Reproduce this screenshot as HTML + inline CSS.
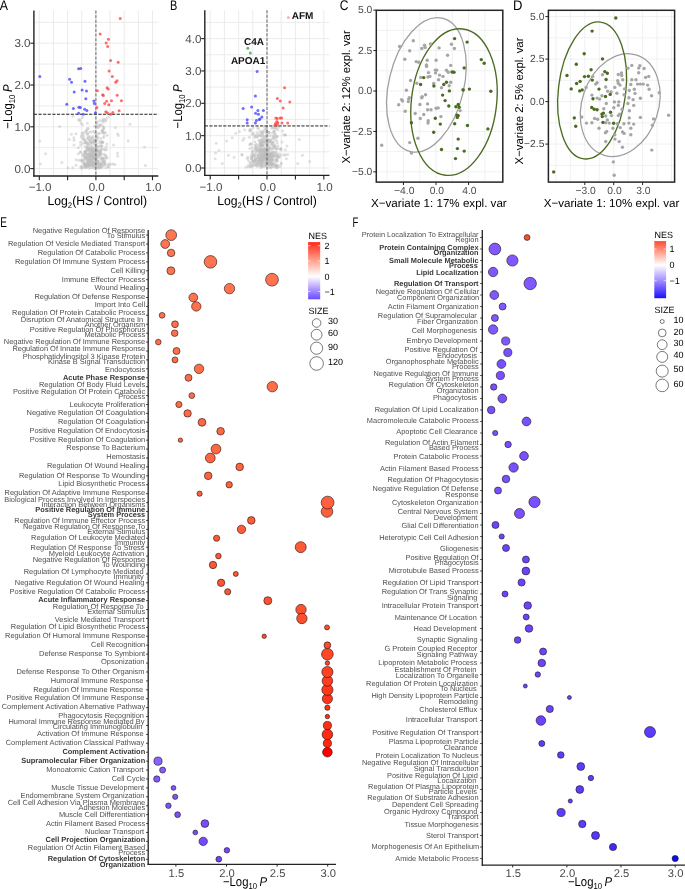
<!DOCTYPE html>
<html lang="en"><head><meta charset="utf-8"><title>Figure</title>
<style>html,body{margin:0;padding:0;background:#fff;overflow:hidden}svg{display:block;will-change:transform}text{font-family:'Liberation Sans', Arial, sans-serif}</style>
</head><body>
<svg width="685" height="889" viewBox="0 0 685 889" text-rendering="geometricPrecision">
<rect width="685" height="889" fill="#fff"/>
<line x1="39.3" y1="10.5" x2="39.3" y2="176" stroke="#e6e6e6" stroke-width="0.8"/>
<line x1="53.45" y1="10.5" x2="53.45" y2="176" stroke="#e6e6e6" stroke-width="0.8"/>
<line x1="67.6" y1="10.5" x2="67.6" y2="176" stroke="#e6e6e6" stroke-width="0.8"/>
<line x1="81.75" y1="10.5" x2="81.75" y2="176" stroke="#e6e6e6" stroke-width="0.8"/>
<line x1="95.9" y1="10.5" x2="95.9" y2="176" stroke="#e6e6e6" stroke-width="0.8"/>
<line x1="110.05" y1="10.5" x2="110.05" y2="176" stroke="#e6e6e6" stroke-width="0.8"/>
<line x1="124.2" y1="10.5" x2="124.2" y2="176" stroke="#e6e6e6" stroke-width="0.8"/>
<line x1="138.35" y1="10.5" x2="138.35" y2="176" stroke="#e6e6e6" stroke-width="0.8"/>
<line x1="152.5" y1="10.5" x2="152.5" y2="176" stroke="#e6e6e6" stroke-width="0.8"/>
<line x1="33.9" y1="168.6" x2="158.3" y2="168.6" stroke="#e6e6e6" stroke-width="0.8"/>
<line x1="33.9" y1="147.7" x2="158.3" y2="147.7" stroke="#e6e6e6" stroke-width="0.8"/>
<line x1="33.9" y1="126.8" x2="158.3" y2="126.8" stroke="#e6e6e6" stroke-width="0.8"/>
<line x1="33.9" y1="105.9" x2="158.3" y2="105.9" stroke="#e6e6e6" stroke-width="0.8"/>
<line x1="33.9" y1="85" x2="158.3" y2="85" stroke="#e6e6e6" stroke-width="0.8"/>
<line x1="33.9" y1="64.1" x2="158.3" y2="64.1" stroke="#e6e6e6" stroke-width="0.8"/>
<line x1="33.9" y1="43.2" x2="158.3" y2="43.2" stroke="#e6e6e6" stroke-width="0.8"/>
<line x1="33.9" y1="22.3" x2="158.3" y2="22.3" stroke="#e6e6e6" stroke-width="0.8"/>
<g fill="#bebebe" fill-opacity="0.46">
<circle cx="82.36" cy="117.42" r="1.5"/><circle cx="92.05" cy="157.55" r="1.5"/><circle cx="91.91" cy="154.85" r="1.5"/><circle cx="95.34" cy="139.93" r="1.5"/><circle cx="80.86" cy="160.17" r="1.5"/><circle cx="90.53" cy="164.69" r="1.5"/><circle cx="86.86" cy="163.76" r="1.5"/><circle cx="89.95" cy="162.02" r="1.5"/><circle cx="88.56" cy="165" r="1.5"/><circle cx="84.64" cy="163.12" r="1.5"/><circle cx="97.39" cy="166.6" r="1.5"/><circle cx="89.8" cy="160.62" r="1.5"/><circle cx="84.29" cy="157.44" r="1.5"/><circle cx="94.6" cy="126.18" r="1.5"/><circle cx="101.59" cy="142.29" r="1.5"/><circle cx="109" cy="163.92" r="1.5"/><circle cx="90.75" cy="160.94" r="1.5"/><circle cx="85.42" cy="158.57" r="1.5"/><circle cx="100.17" cy="151.22" r="1.5"/><circle cx="91.8" cy="149.22" r="1.5"/><circle cx="91.55" cy="142.48" r="1.5"/><circle cx="88.5" cy="132.42" r="1.5"/><circle cx="99.04" cy="167.78" r="1.5"/><circle cx="82.94" cy="143.42" r="1.5"/><circle cx="89.28" cy="153.09" r="1.5"/><circle cx="102.89" cy="125.97" r="1.5"/><circle cx="102.25" cy="141.46" r="1.5"/><circle cx="102.11" cy="130.85" r="1.5"/><circle cx="95.65" cy="152.67" r="1.5"/><circle cx="101.67" cy="145.88" r="1.5"/><circle cx="100.2" cy="164.16" r="1.5"/><circle cx="95.06" cy="162.81" r="1.5"/><circle cx="85.2" cy="142.67" r="1.5"/><circle cx="83.32" cy="162.34" r="1.5"/><circle cx="78.91" cy="160.13" r="1.5"/><circle cx="89.83" cy="156.14" r="1.5"/><circle cx="83.14" cy="155.85" r="1.5"/><circle cx="102.31" cy="163.33" r="1.5"/><circle cx="84.86" cy="151.72" r="1.5"/><circle cx="85.6" cy="132.35" r="1.5"/><circle cx="101.79" cy="167.47" r="1.5"/><circle cx="90.45" cy="154.17" r="1.5"/><circle cx="89.62" cy="155.46" r="1.5"/><circle cx="102.89" cy="166.09" r="1.5"/><circle cx="94.89" cy="140.31" r="1.5"/><circle cx="84.41" cy="155.89" r="1.5"/><circle cx="91.03" cy="164.96" r="1.5"/><circle cx="105.9" cy="119.16" r="1.5"/><circle cx="85.6" cy="167.69" r="1.5"/><circle cx="94.18" cy="144.4" r="1.5"/><circle cx="91.9" cy="155.87" r="1.5"/><circle cx="103.63" cy="133.12" r="1.5"/><circle cx="105.21" cy="163.69" r="1.5"/><circle cx="93.15" cy="155.93" r="1.5"/><circle cx="98.09" cy="150.72" r="1.5"/><circle cx="94.72" cy="141.19" r="1.5"/><circle cx="85.94" cy="156.83" r="1.5"/><circle cx="94.17" cy="162.3" r="1.5"/><circle cx="91.1" cy="156.94" r="1.5"/><circle cx="87.57" cy="166.73" r="1.5"/><circle cx="90.33" cy="151.17" r="1.5"/><circle cx="102.05" cy="154.06" r="1.5"/><circle cx="97.21" cy="161.13" r="1.5"/><circle cx="85.37" cy="151.96" r="1.5"/><circle cx="85.16" cy="151.29" r="1.5"/><circle cx="79.86" cy="120.71" r="1.5"/><circle cx="92.02" cy="150.66" r="1.5"/><circle cx="90.99" cy="161.11" r="1.5"/><circle cx="102.16" cy="130.25" r="1.5"/><circle cx="103.23" cy="122.09" r="1.5"/><circle cx="93.3" cy="155.55" r="1.5"/><circle cx="97.35" cy="147.55" r="1.5"/><circle cx="97.78" cy="156.43" r="1.5"/><circle cx="103.81" cy="127.71" r="1.5"/><circle cx="90.18" cy="162.52" r="1.5"/><circle cx="91.83" cy="154.49" r="1.5"/><circle cx="92.89" cy="131.49" r="1.5"/><circle cx="85.17" cy="164.8" r="1.5"/><circle cx="94.89" cy="166.65" r="1.5"/><circle cx="84.72" cy="164.55" r="1.5"/><circle cx="87.26" cy="163.8" r="1.5"/><circle cx="79.84" cy="119.58" r="1.5"/><circle cx="106.06" cy="156.23" r="1.5"/><circle cx="92.08" cy="167.22" r="1.5"/><circle cx="82.42" cy="161.25" r="1.5"/><circle cx="97.92" cy="162.05" r="1.5"/><circle cx="88.12" cy="166.12" r="1.5"/><circle cx="95.64" cy="167.69" r="1.5"/><circle cx="93.96" cy="162.91" r="1.5"/><circle cx="98.8" cy="168.02" r="1.5"/><circle cx="87.26" cy="123.19" r="1.5"/><circle cx="94.24" cy="166.21" r="1.5"/><circle cx="95.7" cy="155.11" r="1.5"/><circle cx="87.08" cy="138.74" r="1.5"/><circle cx="92.86" cy="151.11" r="1.5"/><circle cx="90.79" cy="150.19" r="1.5"/><circle cx="93.77" cy="157.14" r="1.5"/><circle cx="103.29" cy="160.4" r="1.5"/><circle cx="100.45" cy="157.99" r="1.5"/><circle cx="93.79" cy="165.72" r="1.5"/><circle cx="95.46" cy="133.17" r="1.5"/><circle cx="88.14" cy="150.82" r="1.5"/><circle cx="88.67" cy="164.47" r="1.5"/><circle cx="76.17" cy="159.69" r="1.5"/><circle cx="104.45" cy="159.1" r="1.5"/><circle cx="88.15" cy="144.05" r="1.5"/><circle cx="100.53" cy="163.39" r="1.5"/><circle cx="104.48" cy="162.83" r="1.5"/><circle cx="93.64" cy="150.81" r="1.5"/><circle cx="96.24" cy="161.09" r="1.5"/><circle cx="98.2" cy="133.18" r="1.5"/><circle cx="78.42" cy="153.74" r="1.5"/><circle cx="89.3" cy="157.28" r="1.5"/><circle cx="91.26" cy="138.3" r="1.5"/><circle cx="99.64" cy="133.51" r="1.5"/><circle cx="85.92" cy="152" r="1.5"/><circle cx="102.76" cy="158.3" r="1.5"/><circle cx="106.39" cy="158.18" r="1.5"/><circle cx="95.39" cy="144.07" r="1.5"/><circle cx="98.12" cy="146.65" r="1.5"/><circle cx="96.92" cy="157.6" r="1.5"/><circle cx="93.34" cy="150.8" r="1.5"/><circle cx="87.69" cy="160.97" r="1.5"/><circle cx="86.33" cy="166.01" r="1.5"/><circle cx="104.42" cy="154.2" r="1.5"/><circle cx="94.2" cy="139.63" r="1.5"/><circle cx="95.7" cy="162.13" r="1.5"/><circle cx="80.59" cy="145.31" r="1.5"/><circle cx="98.31" cy="155.14" r="1.5"/><circle cx="102.66" cy="142.56" r="1.5"/><circle cx="105.4" cy="132.39" r="1.5"/><circle cx="84.36" cy="164.08" r="1.5"/><circle cx="87.61" cy="128.85" r="1.5"/><circle cx="105.81" cy="167.54" r="1.5"/><circle cx="94.57" cy="162.37" r="1.5"/><circle cx="96.82" cy="139.8" r="1.5"/><circle cx="88.22" cy="161.38" r="1.5"/><circle cx="100.72" cy="138.54" r="1.5"/><circle cx="95.02" cy="163.78" r="1.5"/><circle cx="84.22" cy="154.19" r="1.5"/><circle cx="92.23" cy="164.89" r="1.5"/><circle cx="95.06" cy="154.84" r="1.5"/><circle cx="96.23" cy="151.6" r="1.5"/><circle cx="108.22" cy="166.67" r="1.5"/><circle cx="85.05" cy="163.68" r="1.5"/><circle cx="100.33" cy="155.29" r="1.5"/><circle cx="86.23" cy="166.18" r="1.5"/><circle cx="92.67" cy="159.57" r="1.5"/><circle cx="89.07" cy="164.83" r="1.5"/><circle cx="86.87" cy="143.27" r="1.5"/><circle cx="92.95" cy="154.22" r="1.5"/><circle cx="92.22" cy="153.47" r="1.5"/><circle cx="94.55" cy="131.92" r="1.5"/><circle cx="106.99" cy="143.93" r="1.5"/><circle cx="102.92" cy="142.56" r="1.5"/><circle cx="104.27" cy="148.89" r="1.5"/><circle cx="96" cy="151.25" r="1.5"/><circle cx="97.84" cy="162.95" r="1.5"/><circle cx="86.86" cy="154.08" r="1.5"/><circle cx="100.77" cy="163.69" r="1.5"/><circle cx="107.15" cy="135.34" r="1.5"/><circle cx="106.55" cy="149.77" r="1.5"/><circle cx="93.64" cy="164.03" r="1.5"/><circle cx="90.37" cy="141.7" r="1.5"/><circle cx="90.86" cy="139.33" r="1.5"/><circle cx="90.56" cy="131.89" r="1.5"/><circle cx="80.97" cy="123.16" r="1.5"/><circle cx="87.33" cy="154.13" r="1.5"/><circle cx="93.06" cy="152.32" r="1.5"/><circle cx="92.13" cy="149.26" r="1.5"/><circle cx="78.4" cy="119.87" r="1.5"/><circle cx="97.54" cy="160.74" r="1.5"/><circle cx="102.48" cy="120.99" r="1.5"/><circle cx="98.75" cy="160.89" r="1.5"/><circle cx="99.29" cy="166.44" r="1.5"/><circle cx="85.62" cy="159" r="1.5"/><circle cx="92.65" cy="137.8" r="1.5"/><circle cx="101.67" cy="141.73" r="1.5"/><circle cx="78.37" cy="147.84" r="1.5"/><circle cx="93.35" cy="148.08" r="1.5"/><circle cx="92.56" cy="162.8" r="1.5"/><circle cx="81.96" cy="132.91" r="1.5"/><circle cx="93.97" cy="168.09" r="1.5"/><circle cx="89.73" cy="154.88" r="1.5"/><circle cx="99.53" cy="165.21" r="1.5"/><circle cx="89.08" cy="165.18" r="1.5"/><circle cx="87.65" cy="160.5" r="1.5"/><circle cx="96.57" cy="154.44" r="1.5"/><circle cx="95.22" cy="151.58" r="1.5"/><circle cx="96.07" cy="152.49" r="1.5"/><circle cx="97.42" cy="164.78" r="1.5"/><circle cx="99.09" cy="151.29" r="1.5"/><circle cx="89.85" cy="153.19" r="1.5"/><circle cx="107.97" cy="117.34" r="1.5"/><circle cx="100.91" cy="151.72" r="1.5"/><circle cx="91.1" cy="159.09" r="1.5"/><circle cx="84.42" cy="140.01" r="1.5"/><circle cx="83.58" cy="132.77" r="1.5"/><circle cx="92.76" cy="152.27" r="1.5"/><circle cx="98.1" cy="151.04" r="1.5"/><circle cx="100.58" cy="164.2" r="1.5"/><circle cx="100.11" cy="120.61" r="1.5"/><circle cx="87.65" cy="163.6" r="1.5"/><circle cx="92.58" cy="140.72" r="1.5"/><circle cx="80.55" cy="142.35" r="1.5"/><circle cx="84.66" cy="152.55" r="1.5"/><circle cx="90.74" cy="144.43" r="1.5"/><circle cx="96.85" cy="149.78" r="1.5"/><circle cx="92.18" cy="155.65" r="1.5"/><circle cx="100.22" cy="154.82" r="1.5"/><circle cx="87.38" cy="147.85" r="1.5"/><circle cx="87.2" cy="158.19" r="1.5"/><circle cx="88.87" cy="159.55" r="1.5"/><circle cx="93.5" cy="158.45" r="1.5"/><circle cx="84.05" cy="165.04" r="1.5"/><circle cx="101.07" cy="158.5" r="1.5"/><circle cx="80.64" cy="167.17" r="1.5"/><circle cx="86.09" cy="167.24" r="1.5"/><circle cx="86.94" cy="156.94" r="1.5"/><circle cx="105.34" cy="155.28" r="1.5"/><circle cx="88.15" cy="137.57" r="1.5"/><circle cx="87.6" cy="147.02" r="1.5"/><circle cx="92.9" cy="161.77" r="1.5"/><circle cx="93.11" cy="150.99" r="1.5"/><circle cx="96.24" cy="150.61" r="1.5"/><circle cx="88.41" cy="149.62" r="1.5"/><circle cx="82.75" cy="167.62" r="1.5"/><circle cx="91.12" cy="162.89" r="1.5"/><circle cx="93.9" cy="157.67" r="1.5"/><circle cx="83.38" cy="138.63" r="1.5"/><circle cx="89.24" cy="168.15" r="1.5"/><circle cx="104.06" cy="135.93" r="1.5"/><circle cx="80.32" cy="151.81" r="1.5"/><circle cx="92.16" cy="142.15" r="1.5"/><circle cx="95.73" cy="166.98" r="1.5"/><circle cx="103.38" cy="129.43" r="1.5"/><circle cx="90.07" cy="136.4" r="1.5"/><circle cx="91.09" cy="152.03" r="1.5"/><circle cx="95.01" cy="147.18" r="1.5"/><circle cx="88.87" cy="144.63" r="1.5"/><circle cx="94.95" cy="159.49" r="1.5"/><circle cx="104.16" cy="132.94" r="1.5"/><circle cx="99.46" cy="152.3" r="1.5"/><circle cx="96.13" cy="148.34" r="1.5"/><circle cx="83.86" cy="136.5" r="1.5"/><circle cx="94.92" cy="141.82" r="1.5"/><circle cx="80.63" cy="152.4" r="1.5"/><circle cx="89.89" cy="148.03" r="1.5"/><circle cx="96.72" cy="143.51" r="1.5"/><circle cx="90.93" cy="150.46" r="1.5"/><circle cx="97.43" cy="127" r="1.5"/><circle cx="103.04" cy="119.23" r="1.5"/><circle cx="105.62" cy="120.93" r="1.5"/><circle cx="92.19" cy="153.56" r="1.5"/><circle cx="97.42" cy="150.32" r="1.5"/><circle cx="88.16" cy="128.46" r="1.5"/><circle cx="81.36" cy="166.29" r="1.5"/><circle cx="87.83" cy="165.22" r="1.5"/><circle cx="82.79" cy="154.83" r="1.5"/><circle cx="93.72" cy="155.75" r="1.5"/><circle cx="101.51" cy="160.89" r="1.5"/><circle cx="99.72" cy="156.19" r="1.5"/><circle cx="86.35" cy="149.34" r="1.5"/><circle cx="87.97" cy="166.12" r="1.5"/><circle cx="97.56" cy="163.11" r="1.5"/><circle cx="90.91" cy="158.11" r="1.5"/><circle cx="73.81" cy="137.68" r="1.5"/><circle cx="106.99" cy="157.46" r="1.5"/><circle cx="92.62" cy="151.45" r="1.5"/><circle cx="90.43" cy="159.12" r="1.5"/><circle cx="88.96" cy="155.23" r="1.5"/><circle cx="88.62" cy="148.92" r="1.5"/><circle cx="96.92" cy="135.48" r="1.5"/><circle cx="98.33" cy="153.77" r="1.5"/><circle cx="94.65" cy="154.14" r="1.5"/><circle cx="91.8" cy="146.85" r="1.5"/><circle cx="89.5" cy="165.38" r="1.5"/><circle cx="87.44" cy="158.94" r="1.5"/><circle cx="72.95" cy="116.2" r="1.5"/><circle cx="84.94" cy="153.36" r="1.5"/><circle cx="86.15" cy="150.9" r="1.5"/><circle cx="93.95" cy="158.24" r="1.5"/><circle cx="89.68" cy="160.28" r="1.5"/><circle cx="93.9" cy="141.8" r="1.5"/><circle cx="83.36" cy="139.28" r="1.5"/><circle cx="95.16" cy="163.04" r="1.5"/><circle cx="92.45" cy="165.33" r="1.5"/><circle cx="99.88" cy="146.1" r="1.5"/><circle cx="82.97" cy="134.87" r="1.5"/><circle cx="89.25" cy="163.85" r="1.5"/><circle cx="95.71" cy="155.42" r="1.5"/><circle cx="90.74" cy="148.18" r="1.5"/><circle cx="83.79" cy="166.96" r="1.5"/><circle cx="93.68" cy="159.56" r="1.5"/><circle cx="89.83" cy="160.32" r="1.5"/><circle cx="85.64" cy="157.25" r="1.5"/><circle cx="86.29" cy="157.15" r="1.5"/><circle cx="99.88" cy="152.54" r="1.5"/><circle cx="85.56" cy="142.43" r="1.5"/><circle cx="95.5" cy="162.08" r="1.5"/><circle cx="86.84" cy="154.88" r="1.5"/><circle cx="88.93" cy="158.91" r="1.5"/><circle cx="100.14" cy="143.36" r="1.5"/><circle cx="87.76" cy="158.16" r="1.5"/><circle cx="87.71" cy="161.48" r="1.5"/><circle cx="89.18" cy="154.3" r="1.5"/><circle cx="95.54" cy="157.97" r="1.5"/><circle cx="94.6" cy="158.16" r="1.5"/><circle cx="93.12" cy="136.54" r="1.5"/><circle cx="84.54" cy="164.84" r="1.5"/><circle cx="100.22" cy="153.31" r="1.5"/><circle cx="87.51" cy="134.24" r="1.5"/><circle cx="93.54" cy="163.49" r="1.5"/><circle cx="94.48" cy="158.64" r="1.5"/><circle cx="91.8" cy="156.38" r="1.5"/><circle cx="100.96" cy="166.7" r="1.5"/><circle cx="90.12" cy="160.72" r="1.5"/><circle cx="88.43" cy="163.14" r="1.5"/><circle cx="84.48" cy="160.36" r="1.5"/><circle cx="88.51" cy="161.48" r="1.5"/><circle cx="97.32" cy="157.5" r="1.5"/><circle cx="100.57" cy="124.49" r="1.5"/><circle cx="87.21" cy="134" r="1.5"/><circle cx="95.7" cy="155.34" r="1.5"/><circle cx="86.98" cy="165.24" r="1.5"/><circle cx="97.06" cy="146.04" r="1.5"/><circle cx="110.68" cy="164.27" r="1.5"/><circle cx="88.56" cy="150.28" r="1.5"/><circle cx="98.52" cy="127.6" r="1.5"/><circle cx="93.97" cy="165.19" r="1.5"/><circle cx="87.2" cy="142.43" r="1.5"/><circle cx="103.56" cy="160.91" r="1.5"/><circle cx="102.72" cy="158.73" r="1.5"/><circle cx="87.22" cy="145.35" r="1.5"/><circle cx="98.23" cy="126.04" r="1.5"/><circle cx="90.19" cy="159.13" r="1.5"/><circle cx="105.1" cy="161.37" r="1.5"/><circle cx="91.12" cy="154.57" r="1.5"/><circle cx="103.82" cy="127.97" r="1.5"/><circle cx="98.21" cy="137.79" r="1.5"/><circle cx="81.38" cy="137.3" r="1.5"/><circle cx="93.87" cy="156.98" r="1.5"/><circle cx="81.72" cy="168.24" r="1.5"/><circle cx="91" cy="149.24" r="1.5"/><circle cx="92.46" cy="163.97" r="1.5"/><circle cx="92.09" cy="163.32" r="1.5"/><circle cx="104.35" cy="119.78" r="1.5"/><circle cx="81.61" cy="160.62" r="1.5"/><circle cx="86.17" cy="141.92" r="1.5"/><circle cx="91.18" cy="146.83" r="1.5"/><circle cx="97.08" cy="137.48" r="1.5"/><circle cx="97.71" cy="121.86" r="1.5"/><circle cx="105.12" cy="164.7" r="1.5"/><circle cx="87.04" cy="148.04" r="1.5"/><circle cx="94.55" cy="149.04" r="1.5"/><circle cx="93.99" cy="164.11" r="1.5"/><circle cx="101.86" cy="149.17" r="1.5"/><circle cx="88.79" cy="139.76" r="1.5"/><circle cx="92.45" cy="164.53" r="1.5"/><circle cx="86.26" cy="154.46" r="1.5"/><circle cx="104.01" cy="162.69" r="1.5"/><circle cx="94.64" cy="151.28" r="1.5"/><circle cx="96.5" cy="149.54" r="1.5"/><circle cx="88.46" cy="136.67" r="1.5"/><circle cx="106.1" cy="146.84" r="1.5"/><circle cx="84.96" cy="140.73" r="1.5"/><circle cx="102.48" cy="132.06" r="1.5"/><circle cx="90.92" cy="167.33" r="1.5"/><circle cx="99.84" cy="153.44" r="1.5"/><circle cx="87.08" cy="164.1" r="1.5"/><circle cx="103.61" cy="157.65" r="1.5"/><circle cx="93.8" cy="163.08" r="1.5"/><circle cx="98.42" cy="167.84" r="1.5"/><circle cx="91.49" cy="158.08" r="1.5"/><circle cx="99.4" cy="141.55" r="1.5"/><circle cx="82.42" cy="124.59" r="1.5"/><circle cx="92.32" cy="142.73" r="1.5"/><circle cx="93.9" cy="154.35" r="1.5"/><circle cx="104.95" cy="149.99" r="1.5"/><circle cx="99.61" cy="125.15" r="1.5"/><circle cx="101.87" cy="165.37" r="1.5"/><circle cx="91.97" cy="157.83" r="1.5"/><circle cx="102.14" cy="158.73" r="1.5"/><circle cx="87.69" cy="147.42" r="1.5"/><circle cx="98.79" cy="163.42" r="1.5"/><circle cx="99.75" cy="154.11" r="1.5"/><circle cx="94.59" cy="148.23" r="1.5"/><circle cx="96.07" cy="156.73" r="1.5"/><circle cx="107.99" cy="164.97" r="1.5"/><circle cx="92.5" cy="161.65" r="1.5"/><circle cx="96.22" cy="164.91" r="1.5"/><circle cx="89.39" cy="140.06" r="1.5"/><circle cx="100.35" cy="125.86" r="1.5"/><circle cx="85.92" cy="130.63" r="1.5"/><circle cx="89.9" cy="142.14" r="1.5"/><circle cx="95.59" cy="158.44" r="1.5"/><circle cx="85.21" cy="146.4" r="1.5"/><circle cx="75.89" cy="133.84" r="1.5"/><circle cx="89.92" cy="163.24" r="1.5"/><circle cx="100.94" cy="146.22" r="1.5"/><circle cx="82.64" cy="159.85" r="1.5"/><circle cx="98.36" cy="164.72" r="1.5"/><circle cx="76.07" cy="165.14" r="1.5"/><circle cx="81.47" cy="135.52" r="1.5"/><circle cx="102.27" cy="132.12" r="1.5"/><circle cx="100.34" cy="150.04" r="1.5"/><circle cx="94.33" cy="158.5" r="1.5"/><circle cx="86.64" cy="130.61" r="1.5"/><circle cx="89.07" cy="156.42" r="1.5"/><circle cx="85.85" cy="166.42" r="1.5"/><circle cx="101.47" cy="149.35" r="1.5"/><circle cx="96.91" cy="124.12" r="1.5"/><circle cx="91.92" cy="161.59" r="1.5"/><circle cx="88.87" cy="149.12" r="1.5"/><circle cx="101.94" cy="145.81" r="1.5"/><circle cx="103.93" cy="164.86" r="1.5"/><circle cx="97.13" cy="160.27" r="1.5"/><circle cx="100.32" cy="167.5" r="1.5"/><circle cx="103.24" cy="161.82" r="1.5"/><circle cx="103.49" cy="137.58" r="1.5"/><circle cx="39.87" cy="140.93" r="1.5"/><circle cx="45.56" cy="153.83" r="1.5"/><circle cx="40.44" cy="164.08" r="1.5"/><circle cx="59.6" cy="126.51" r="1.5"/><circle cx="61.88" cy="162.56" r="1.5"/><circle cx="71.37" cy="134.29" r="1.5"/><circle cx="69.28" cy="139.41" r="1.5"/><circle cx="74.02" cy="140.36" r="1.5"/><circle cx="74.02" cy="145.1" r="1.5"/><circle cx="130" cy="124.23" r="1.5"/><circle cx="128.1" cy="140.74" r="1.5"/><circle cx="144.42" cy="147" r="1.5"/><circle cx="145.37" cy="165.6" r="1.5"/><circle cx="117.67" cy="133.72" r="1.5"/><circle cx="118.24" cy="135.62" r="1.5"/><circle cx="117.48" cy="152.88" r="1.5"/><circle cx="117.67" cy="156.11" r="1.5"/><circle cx="115.39" cy="127.46" r="1.5"/><circle cx="113.49" cy="145.1" r="1.5"/><circle cx="113.11" cy="164.08" r="1.5"/><circle cx="114.82" cy="164.46" r="1.5"/><circle cx="108.37" cy="166.93" r="1.5"/><circle cx="67.95" cy="167.87" r="1.5"/><circle cx="72.69" cy="167.87" r="1.5"/>
</g>
<line x1="95.9" y1="10.5" x2="95.9" y2="176" stroke="#555" stroke-width="0.9" stroke-dasharray="3.2 1.4"/>
<line x1="33.9" y1="114.26" x2="158.3" y2="114.26" stroke="#222" stroke-width="1" stroke-dasharray="3.2 1.4"/>
<g fill="#4a4aff" fill-opacity="0.8">
<circle cx="39.8" cy="76.5" r="1.5"/><circle cx="78.6" cy="68.8" r="1.5"/><circle cx="80.7" cy="68.5" r="1.5"/><circle cx="69.6" cy="79.3" r="1.5"/><circle cx="71.5" cy="82.2" r="1.5"/><circle cx="85" cy="81.2" r="1.5"/><circle cx="74.2" cy="92.1" r="1.5"/><circle cx="82.1" cy="90.1" r="1.5"/><circle cx="86.5" cy="91.1" r="1.5"/><circle cx="85.8" cy="98.7" r="1.5"/><circle cx="66.8" cy="104.2" r="1.5"/><circle cx="93.9" cy="101" r="1.5"/><circle cx="94.4" cy="103.4" r="1.5"/><circle cx="73.4" cy="108.5" r="1.5"/><circle cx="78.9" cy="107.2" r="1.5"/><circle cx="80.4" cy="107.6" r="1.5"/><circle cx="84.7" cy="109.2" r="1.5"/><circle cx="86.9" cy="110.5" r="1.5"/><circle cx="78.6" cy="113.3" r="1.5"/><circle cx="83.3" cy="114.3" r="1.5"/><circle cx="95.4" cy="112.8" r="1.5"/>
</g>
<g fill="#ff3e3e" fill-opacity="0.75">
<circle cx="120.2" cy="18.4" r="1.5"/><circle cx="100.2" cy="34.1" r="1.5"/><circle cx="108.4" cy="39.2" r="1.5"/><circle cx="106.2" cy="43" r="1.5"/><circle cx="107.7" cy="46.5" r="1.5"/><circle cx="110.6" cy="60.6" r="1.5"/><circle cx="118.2" cy="62.2" r="1.5"/><circle cx="109.1" cy="71.1" r="1.5"/><circle cx="112.3" cy="76.6" r="1.5"/><circle cx="117" cy="80.7" r="1.5"/><circle cx="115.7" cy="82.3" r="1.5"/><circle cx="97.4" cy="90.8" r="1.5"/><circle cx="107.1" cy="87.7" r="1.5"/><circle cx="108.2" cy="88.9" r="1.5"/><circle cx="102.7" cy="94.7" r="1.5"/><circle cx="103.4" cy="95.5" r="1.5"/><circle cx="117.2" cy="95.2" r="1.5"/><circle cx="121.4" cy="100.7" r="1.5"/><circle cx="111.5" cy="100.7" r="1.5"/><circle cx="106.6" cy="101.2" r="1.5"/><circle cx="104.7" cy="103.4" r="1.5"/><circle cx="108.8" cy="104.8" r="1.5"/><circle cx="96.9" cy="107.4" r="1.5"/><circle cx="105.8" cy="111.7" r="1.5"/><circle cx="107.4" cy="112.8" r="1.5"/><circle cx="112.8" cy="112.6" r="1.5"/><circle cx="119.1" cy="110.8" r="1.5"/><circle cx="110.6" cy="114.3" r="1.5"/>
</g>
<line x1="33.9" y1="10.5" x2="33.9" y2="176.6" stroke="#222" stroke-width="1.4"/>
<line x1="33.2" y1="176" x2="158.3" y2="176" stroke="#222" stroke-width="1.4"/>
<line x1="30.3" y1="168.6" x2="33.9" y2="168.6" stroke="#222" stroke-width="1.1"/>
<text x="30.5" y="172.7" font-size="11.6" text-anchor="end" fill="#4a4a4a">0.0</text>
<line x1="30.3" y1="126.8" x2="33.9" y2="126.8" stroke="#222" stroke-width="1.1"/>
<text x="30.5" y="130.9" font-size="11.6" text-anchor="end" fill="#4a4a4a">1.0</text>
<line x1="30.3" y1="85" x2="33.9" y2="85" stroke="#222" stroke-width="1.1"/>
<text x="30.5" y="89.1" font-size="11.6" text-anchor="end" fill="#4a4a4a">2.0</text>
<line x1="30.3" y1="43.2" x2="33.9" y2="43.2" stroke="#222" stroke-width="1.1"/>
<text x="30.5" y="47.3" font-size="11.6" text-anchor="end" fill="#4a4a4a">3.0</text>
<line x1="39.3" y1="176" x2="39.3" y2="180.2" stroke="#222" stroke-width="1.1"/>
<line x1="67.6" y1="176" x2="67.6" y2="180.2" stroke="#222" stroke-width="1.1"/>
<line x1="95.9" y1="176" x2="95.9" y2="180.2" stroke="#222" stroke-width="1.1"/>
<line x1="124.2" y1="176" x2="124.2" y2="180.2" stroke="#222" stroke-width="1.1"/>
<line x1="152.5" y1="176" x2="152.5" y2="180.2" stroke="#222" stroke-width="1.1"/>
<text x="40.1" y="191.3" font-size="11.6" text-anchor="middle" fill="#4a4a4a">−1.0</text>
<text x="96.7" y="191.3" font-size="11.6" text-anchor="middle" fill="#4a4a4a">0.0</text>
<text x="153.3" y="191.3" font-size="11.6" text-anchor="middle" fill="#4a4a4a">1.0</text>
<text transform="translate(97.2 205) scale(0.965 1)" font-size="12.7" text-anchor="middle" fill="#000">Log<tspan font-size="8.13" dy="2.54">2</tspan><tspan dy="-2.54">(HS / Control)</tspan></text>
<text transform="translate(11.8 106.6) rotate(-90) scale(0.885 1)" font-size="12.8" text-anchor="middle" fill="#000">−Log<tspan font-size="8.7" dy="3.07">10</tspan><tspan dy="-3.07" font-size="10.24"> </tspan><tspan font-style="italic">P</tspan></text>
<text transform="translate(-0.3 9.7) scale(0.88 1)" font-size="14" fill="#000">A</text>
<line x1="210.2" y1="10.2" x2="210.2" y2="175.4" stroke="#e6e6e6" stroke-width="0.8"/>
<line x1="224.4" y1="10.2" x2="224.4" y2="175.4" stroke="#e6e6e6" stroke-width="0.8"/>
<line x1="238.6" y1="10.2" x2="238.6" y2="175.4" stroke="#e6e6e6" stroke-width="0.8"/>
<line x1="252.8" y1="10.2" x2="252.8" y2="175.4" stroke="#e6e6e6" stroke-width="0.8"/>
<line x1="267" y1="10.2" x2="267" y2="175.4" stroke="#e6e6e6" stroke-width="0.8"/>
<line x1="281.2" y1="10.2" x2="281.2" y2="175.4" stroke="#e6e6e6" stroke-width="0.8"/>
<line x1="295.4" y1="10.2" x2="295.4" y2="175.4" stroke="#e6e6e6" stroke-width="0.8"/>
<line x1="309.6" y1="10.2" x2="309.6" y2="175.4" stroke="#e6e6e6" stroke-width="0.8"/>
<line x1="323.8" y1="10.2" x2="323.8" y2="175.4" stroke="#e6e6e6" stroke-width="0.8"/>
<line x1="204.8" y1="168" x2="329.5" y2="168" stroke="#e6e6e6" stroke-width="0.8"/>
<line x1="204.8" y1="151.82" x2="329.5" y2="151.82" stroke="#e6e6e6" stroke-width="0.8"/>
<line x1="204.8" y1="135.65" x2="329.5" y2="135.65" stroke="#e6e6e6" stroke-width="0.8"/>
<line x1="204.8" y1="119.47" x2="329.5" y2="119.47" stroke="#e6e6e6" stroke-width="0.8"/>
<line x1="204.8" y1="103.3" x2="329.5" y2="103.3" stroke="#e6e6e6" stroke-width="0.8"/>
<line x1="204.8" y1="87.12" x2="329.5" y2="87.12" stroke="#e6e6e6" stroke-width="0.8"/>
<line x1="204.8" y1="70.95" x2="329.5" y2="70.95" stroke="#e6e6e6" stroke-width="0.8"/>
<line x1="204.8" y1="54.77" x2="329.5" y2="54.77" stroke="#e6e6e6" stroke-width="0.8"/>
<line x1="204.8" y1="38.6" x2="329.5" y2="38.6" stroke="#e6e6e6" stroke-width="0.8"/>
<line x1="204.8" y1="22.42" x2="329.5" y2="22.42" stroke="#e6e6e6" stroke-width="0.8"/>
<g fill="#bebebe" fill-opacity="0.46">
<circle cx="272.19" cy="155.39" r="1.5"/><circle cx="261.68" cy="152.13" r="1.5"/><circle cx="265.55" cy="148.89" r="1.5"/><circle cx="260.32" cy="159.75" r="1.5"/><circle cx="272.3" cy="133.33" r="1.5"/><circle cx="247.84" cy="157.29" r="1.5"/><circle cx="272.44" cy="157.75" r="1.5"/><circle cx="265.4" cy="140.02" r="1.5"/><circle cx="263.5" cy="154.44" r="1.5"/><circle cx="263.33" cy="150.65" r="1.5"/><circle cx="276.02" cy="164.95" r="1.5"/><circle cx="264.11" cy="154.06" r="1.5"/><circle cx="253.22" cy="133.06" r="1.5"/><circle cx="255.48" cy="165.51" r="1.5"/><circle cx="262.84" cy="132.61" r="1.5"/><circle cx="266.57" cy="129.81" r="1.5"/><circle cx="276.14" cy="165.08" r="1.5"/><circle cx="269.78" cy="160.59" r="1.5"/><circle cx="266.62" cy="157.87" r="1.5"/><circle cx="265.51" cy="137.45" r="1.5"/><circle cx="282.59" cy="131.05" r="1.5"/><circle cx="273.27" cy="138.4" r="1.5"/><circle cx="264.66" cy="156.94" r="1.5"/><circle cx="255.75" cy="158.19" r="1.5"/><circle cx="261.75" cy="139.36" r="1.5"/><circle cx="272.88" cy="127.75" r="1.5"/><circle cx="276.23" cy="152.51" r="1.5"/><circle cx="257.63" cy="137.34" r="1.5"/><circle cx="270.41" cy="140.97" r="1.5"/><circle cx="280.93" cy="149.27" r="1.5"/><circle cx="262.87" cy="156.89" r="1.5"/><circle cx="265.11" cy="157.3" r="1.5"/><circle cx="275.09" cy="155.14" r="1.5"/><circle cx="265.46" cy="157.43" r="1.5"/><circle cx="269.32" cy="146.88" r="1.5"/><circle cx="270.61" cy="144" r="1.5"/><circle cx="266.14" cy="135.85" r="1.5"/><circle cx="271.05" cy="162.88" r="1.5"/><circle cx="257.55" cy="162.99" r="1.5"/><circle cx="257.81" cy="150.22" r="1.5"/><circle cx="273.71" cy="156.39" r="1.5"/><circle cx="269.57" cy="159.02" r="1.5"/><circle cx="266.99" cy="162.79" r="1.5"/><circle cx="268.67" cy="153.56" r="1.5"/><circle cx="264.67" cy="164.11" r="1.5"/><circle cx="265.95" cy="159.56" r="1.5"/><circle cx="263.52" cy="156.75" r="1.5"/><circle cx="278.32" cy="156.54" r="1.5"/><circle cx="263.11" cy="130.9" r="1.5"/><circle cx="255.82" cy="164.06" r="1.5"/><circle cx="259.1" cy="151.71" r="1.5"/><circle cx="261.84" cy="160.39" r="1.5"/><circle cx="266.46" cy="160.23" r="1.5"/><circle cx="252.37" cy="156.81" r="1.5"/><circle cx="260.67" cy="161.71" r="1.5"/><circle cx="259.88" cy="158.24" r="1.5"/><circle cx="276.66" cy="136.67" r="1.5"/><circle cx="278.78" cy="127.25" r="1.5"/><circle cx="266.26" cy="151.04" r="1.5"/><circle cx="268.9" cy="160.36" r="1.5"/><circle cx="264.45" cy="149.16" r="1.5"/><circle cx="276.46" cy="160.21" r="1.5"/><circle cx="272.73" cy="155.38" r="1.5"/><circle cx="259.31" cy="133.98" r="1.5"/><circle cx="273.98" cy="130.88" r="1.5"/><circle cx="273.88" cy="131.84" r="1.5"/><circle cx="251.24" cy="157.14" r="1.5"/><circle cx="272.46" cy="155.48" r="1.5"/><circle cx="262.22" cy="145.56" r="1.5"/><circle cx="279.17" cy="154.04" r="1.5"/><circle cx="262.74" cy="149.48" r="1.5"/><circle cx="257.11" cy="162.88" r="1.5"/><circle cx="263.19" cy="150.08" r="1.5"/><circle cx="272.59" cy="164.73" r="1.5"/><circle cx="276.97" cy="142.94" r="1.5"/><circle cx="253.32" cy="154.78" r="1.5"/><circle cx="267.19" cy="162.85" r="1.5"/><circle cx="260.65" cy="150.18" r="1.5"/><circle cx="262.65" cy="143.27" r="1.5"/><circle cx="267.76" cy="139.46" r="1.5"/><circle cx="262.32" cy="160.79" r="1.5"/><circle cx="276.73" cy="154.01" r="1.5"/><circle cx="270.58" cy="163.16" r="1.5"/><circle cx="274.6" cy="165.31" r="1.5"/><circle cx="273.77" cy="127.77" r="1.5"/><circle cx="271.43" cy="164.18" r="1.5"/><circle cx="269.04" cy="132.84" r="1.5"/><circle cx="245.99" cy="167.33" r="1.5"/><circle cx="269.87" cy="153.44" r="1.5"/><circle cx="267.29" cy="146.94" r="1.5"/><circle cx="266.23" cy="149.39" r="1.5"/><circle cx="255.43" cy="160.69" r="1.5"/><circle cx="268.7" cy="132.12" r="1.5"/><circle cx="254.98" cy="147.72" r="1.5"/><circle cx="271.84" cy="154.23" r="1.5"/><circle cx="267.71" cy="158.58" r="1.5"/><circle cx="257.92" cy="157.37" r="1.5"/><circle cx="268.54" cy="150.88" r="1.5"/><circle cx="265.56" cy="162.46" r="1.5"/><circle cx="263.67" cy="152.65" r="1.5"/><circle cx="248.35" cy="165.35" r="1.5"/><circle cx="260.81" cy="167.38" r="1.5"/><circle cx="267.62" cy="143.16" r="1.5"/><circle cx="270.68" cy="162.51" r="1.5"/><circle cx="275.67" cy="128.33" r="1.5"/><circle cx="257.45" cy="166.25" r="1.5"/><circle cx="248.66" cy="166.74" r="1.5"/><circle cx="266.68" cy="143.97" r="1.5"/><circle cx="262.57" cy="166.02" r="1.5"/><circle cx="256.55" cy="147.74" r="1.5"/><circle cx="264.73" cy="151.99" r="1.5"/><circle cx="269.4" cy="157.59" r="1.5"/><circle cx="274.5" cy="152.25" r="1.5"/><circle cx="272.46" cy="153.68" r="1.5"/><circle cx="268.74" cy="164.89" r="1.5"/><circle cx="261.59" cy="154.69" r="1.5"/><circle cx="255.98" cy="147.4" r="1.5"/><circle cx="253.33" cy="154.44" r="1.5"/><circle cx="275.76" cy="149.27" r="1.5"/><circle cx="257.39" cy="155.05" r="1.5"/><circle cx="266.87" cy="158.44" r="1.5"/><circle cx="251.95" cy="147.82" r="1.5"/><circle cx="260.09" cy="153.79" r="1.5"/><circle cx="256.16" cy="164.7" r="1.5"/><circle cx="274.3" cy="162.45" r="1.5"/><circle cx="255.79" cy="152.77" r="1.5"/><circle cx="266.33" cy="158.61" r="1.5"/><circle cx="271.59" cy="165.62" r="1.5"/><circle cx="259.26" cy="145.91" r="1.5"/><circle cx="265.15" cy="156.27" r="1.5"/><circle cx="258.43" cy="155.63" r="1.5"/><circle cx="269.06" cy="156.64" r="1.5"/><circle cx="266.38" cy="155.04" r="1.5"/><circle cx="263.92" cy="149.9" r="1.5"/><circle cx="277.35" cy="156.26" r="1.5"/><circle cx="272.42" cy="148.7" r="1.5"/><circle cx="251.58" cy="158.18" r="1.5"/><circle cx="266.46" cy="162.69" r="1.5"/><circle cx="277.94" cy="129.94" r="1.5"/><circle cx="278.07" cy="146.08" r="1.5"/><circle cx="261.69" cy="133.63" r="1.5"/><circle cx="275.03" cy="134.61" r="1.5"/><circle cx="265.58" cy="154.26" r="1.5"/><circle cx="262.86" cy="142.1" r="1.5"/><circle cx="273.96" cy="146.09" r="1.5"/><circle cx="276.7" cy="140.85" r="1.5"/><circle cx="269.63" cy="164.68" r="1.5"/><circle cx="269.68" cy="161.76" r="1.5"/><circle cx="262.16" cy="156.07" r="1.5"/><circle cx="252.76" cy="160.83" r="1.5"/><circle cx="251.96" cy="157.66" r="1.5"/><circle cx="269.03" cy="140.93" r="1.5"/><circle cx="263.56" cy="141.66" r="1.5"/><circle cx="260.33" cy="144.34" r="1.5"/><circle cx="260" cy="140.99" r="1.5"/><circle cx="267.04" cy="143.23" r="1.5"/><circle cx="271.58" cy="159.89" r="1.5"/><circle cx="250.37" cy="129.83" r="1.5"/><circle cx="276.36" cy="167.64" r="1.5"/><circle cx="270.7" cy="160.46" r="1.5"/><circle cx="271.22" cy="158.76" r="1.5"/><circle cx="274.36" cy="159.81" r="1.5"/><circle cx="251.03" cy="165.06" r="1.5"/><circle cx="264.57" cy="155.84" r="1.5"/><circle cx="267.77" cy="161.05" r="1.5"/><circle cx="255.27" cy="136.01" r="1.5"/><circle cx="255.06" cy="144.93" r="1.5"/><circle cx="261.62" cy="155.33" r="1.5"/><circle cx="262.18" cy="141.46" r="1.5"/><circle cx="267.69" cy="142.61" r="1.5"/><circle cx="265.16" cy="136.33" r="1.5"/><circle cx="262.38" cy="155.08" r="1.5"/><circle cx="273.77" cy="152.22" r="1.5"/><circle cx="265.29" cy="155.24" r="1.5"/><circle cx="276.62" cy="161.63" r="1.5"/><circle cx="261.77" cy="166.69" r="1.5"/><circle cx="261.47" cy="160.07" r="1.5"/><circle cx="273.29" cy="163.86" r="1.5"/><circle cx="264.55" cy="127.01" r="1.5"/><circle cx="259.19" cy="155.1" r="1.5"/><circle cx="260.48" cy="165.04" r="1.5"/><circle cx="271.42" cy="127.93" r="1.5"/><circle cx="254.98" cy="159.65" r="1.5"/><circle cx="269.93" cy="160.74" r="1.5"/><circle cx="249.55" cy="144.4" r="1.5"/><circle cx="259.48" cy="159.91" r="1.5"/><circle cx="256.86" cy="132.5" r="1.5"/><circle cx="275.78" cy="165.41" r="1.5"/><circle cx="268.8" cy="141.34" r="1.5"/><circle cx="286.85" cy="146.05" r="1.5"/><circle cx="269.33" cy="160.71" r="1.5"/><circle cx="255.22" cy="149.45" r="1.5"/><circle cx="255.53" cy="158.73" r="1.5"/><circle cx="255.46" cy="159.84" r="1.5"/><circle cx="280.65" cy="148.7" r="1.5"/><circle cx="285.25" cy="134.74" r="1.5"/><circle cx="252.72" cy="161.04" r="1.5"/><circle cx="262.48" cy="140.34" r="1.5"/><circle cx="252.16" cy="165.18" r="1.5"/><circle cx="272.42" cy="145.14" r="1.5"/><circle cx="263.12" cy="135.76" r="1.5"/><circle cx="266.71" cy="140.1" r="1.5"/><circle cx="252.64" cy="150.99" r="1.5"/><circle cx="270.57" cy="163.24" r="1.5"/><circle cx="256.71" cy="159.14" r="1.5"/><circle cx="266.62" cy="155.51" r="1.5"/><circle cx="266.63" cy="153.86" r="1.5"/><circle cx="262.45" cy="141.43" r="1.5"/><circle cx="257.83" cy="147.47" r="1.5"/><circle cx="260.26" cy="140.13" r="1.5"/><circle cx="260.44" cy="142.56" r="1.5"/><circle cx="263.02" cy="157.46" r="1.5"/><circle cx="273.04" cy="164.09" r="1.5"/><circle cx="261.9" cy="153.66" r="1.5"/><circle cx="270.83" cy="164.53" r="1.5"/><circle cx="276.91" cy="158.92" r="1.5"/><circle cx="269.11" cy="150.85" r="1.5"/><circle cx="258.51" cy="155.14" r="1.5"/><circle cx="274.58" cy="166.7" r="1.5"/><circle cx="259.95" cy="131.4" r="1.5"/><circle cx="263.89" cy="150.05" r="1.5"/><circle cx="262.72" cy="149.89" r="1.5"/><circle cx="271.06" cy="167.27" r="1.5"/><circle cx="254.99" cy="160.97" r="1.5"/><circle cx="252.89" cy="156.47" r="1.5"/><circle cx="254.53" cy="155.79" r="1.5"/><circle cx="255.03" cy="161.5" r="1.5"/><circle cx="261.46" cy="164.66" r="1.5"/><circle cx="268.87" cy="154.17" r="1.5"/><circle cx="276.27" cy="128.18" r="1.5"/><circle cx="265.98" cy="165.42" r="1.5"/><circle cx="279.9" cy="166.38" r="1.5"/><circle cx="259.99" cy="142.84" r="1.5"/><circle cx="273.48" cy="156.23" r="1.5"/><circle cx="267.34" cy="146.06" r="1.5"/><circle cx="277.25" cy="136.67" r="1.5"/><circle cx="277.1" cy="159.12" r="1.5"/><circle cx="277.24" cy="148.36" r="1.5"/><circle cx="262.06" cy="147.08" r="1.5"/><circle cx="266.11" cy="155.88" r="1.5"/><circle cx="266.83" cy="131.24" r="1.5"/><circle cx="272.23" cy="151.07" r="1.5"/><circle cx="280.55" cy="148.5" r="1.5"/><circle cx="272.11" cy="142.47" r="1.5"/><circle cx="262.54" cy="133.22" r="1.5"/><circle cx="262.05" cy="161.17" r="1.5"/><circle cx="281.15" cy="164.09" r="1.5"/><circle cx="263.77" cy="156.8" r="1.5"/><circle cx="258.83" cy="157.64" r="1.5"/><circle cx="260.78" cy="158.75" r="1.5"/><circle cx="262.32" cy="165.95" r="1.5"/><circle cx="270.03" cy="156.45" r="1.5"/><circle cx="252.74" cy="160.11" r="1.5"/><circle cx="268.21" cy="141.17" r="1.5"/><circle cx="276.27" cy="159.73" r="1.5"/><circle cx="253.12" cy="127.42" r="1.5"/><circle cx="276.85" cy="167.01" r="1.5"/><circle cx="270.1" cy="154.04" r="1.5"/><circle cx="256.82" cy="135.34" r="1.5"/><circle cx="250.81" cy="166.39" r="1.5"/><circle cx="262.34" cy="145.83" r="1.5"/><circle cx="262.81" cy="161.42" r="1.5"/><circle cx="270.08" cy="155.64" r="1.5"/><circle cx="261.43" cy="159.24" r="1.5"/><circle cx="268.84" cy="147.72" r="1.5"/><circle cx="264.38" cy="157.22" r="1.5"/><circle cx="268.55" cy="149.93" r="1.5"/><circle cx="267.81" cy="162.33" r="1.5"/><circle cx="262.77" cy="145.76" r="1.5"/><circle cx="267.13" cy="133.39" r="1.5"/><circle cx="270" cy="140.44" r="1.5"/><circle cx="270.36" cy="154.01" r="1.5"/><circle cx="263.98" cy="158.36" r="1.5"/><circle cx="265.02" cy="159.27" r="1.5"/><circle cx="274.34" cy="131.24" r="1.5"/><circle cx="265.48" cy="142.26" r="1.5"/><circle cx="261.46" cy="157.01" r="1.5"/><circle cx="264.42" cy="150.94" r="1.5"/><circle cx="261.72" cy="131.64" r="1.5"/><circle cx="260.21" cy="157.6" r="1.5"/><circle cx="266.14" cy="162.52" r="1.5"/><circle cx="256.97" cy="150.29" r="1.5"/><circle cx="272.76" cy="147.63" r="1.5"/><circle cx="273.28" cy="153.1" r="1.5"/><circle cx="256.67" cy="136.52" r="1.5"/><circle cx="261.25" cy="158.93" r="1.5"/><circle cx="271.47" cy="139.05" r="1.5"/><circle cx="249.81" cy="148.38" r="1.5"/><circle cx="270.76" cy="153.09" r="1.5"/><circle cx="263.68" cy="155.55" r="1.5"/><circle cx="271.17" cy="156.83" r="1.5"/><circle cx="269.71" cy="156.42" r="1.5"/><circle cx="270.67" cy="154.63" r="1.5"/><circle cx="259.73" cy="157.64" r="1.5"/><circle cx="264.54" cy="151.4" r="1.5"/><circle cx="250.6" cy="163.57" r="1.5"/><circle cx="257.73" cy="127.82" r="1.5"/><circle cx="249.51" cy="130.66" r="1.5"/><circle cx="251.2" cy="144.31" r="1.5"/><circle cx="275.21" cy="155.11" r="1.5"/><circle cx="253.27" cy="165.7" r="1.5"/><circle cx="262.54" cy="158.9" r="1.5"/><circle cx="260.58" cy="150.04" r="1.5"/><circle cx="271.15" cy="163.25" r="1.5"/><circle cx="264.52" cy="156.15" r="1.5"/><circle cx="275.6" cy="156.96" r="1.5"/><circle cx="272.24" cy="144.6" r="1.5"/><circle cx="241.82" cy="154.51" r="1.5"/><circle cx="261.3" cy="145.41" r="1.5"/><circle cx="266.32" cy="154.34" r="1.5"/><circle cx="260.07" cy="165.78" r="1.5"/><circle cx="262.96" cy="138.52" r="1.5"/><circle cx="268.69" cy="154.43" r="1.5"/><circle cx="276.59" cy="166.15" r="1.5"/><circle cx="253.9" cy="135.05" r="1.5"/><circle cx="271.26" cy="156.43" r="1.5"/><circle cx="259.58" cy="153.14" r="1.5"/><circle cx="263.05" cy="160.06" r="1.5"/><circle cx="251.93" cy="133.96" r="1.5"/><circle cx="269.5" cy="154.31" r="1.5"/><circle cx="265.32" cy="132.27" r="1.5"/><circle cx="267.81" cy="162.34" r="1.5"/><circle cx="266.54" cy="164.34" r="1.5"/><circle cx="275.15" cy="139.12" r="1.5"/><circle cx="254.96" cy="137.44" r="1.5"/><circle cx="258.34" cy="128.81" r="1.5"/><circle cx="267.01" cy="162.55" r="1.5"/><circle cx="259.45" cy="160.79" r="1.5"/><circle cx="257.53" cy="165.76" r="1.5"/><circle cx="269.19" cy="159.93" r="1.5"/><circle cx="261.62" cy="143.67" r="1.5"/><circle cx="260.33" cy="163.78" r="1.5"/><circle cx="267.77" cy="140.56" r="1.5"/><circle cx="265.19" cy="152.13" r="1.5"/><circle cx="268.13" cy="145.14" r="1.5"/><circle cx="267.44" cy="161.5" r="1.5"/><circle cx="267.37" cy="159.17" r="1.5"/><circle cx="285.39" cy="155.01" r="1.5"/><circle cx="253.15" cy="162.61" r="1.5"/><circle cx="260.12" cy="158.95" r="1.5"/><circle cx="263.6" cy="158.33" r="1.5"/><circle cx="263.99" cy="150.27" r="1.5"/><circle cx="247.22" cy="158.44" r="1.5"/><circle cx="279.13" cy="157.01" r="1.5"/><circle cx="280.98" cy="149.43" r="1.5"/><circle cx="259.88" cy="149.76" r="1.5"/><circle cx="269.93" cy="159.09" r="1.5"/><circle cx="264.27" cy="149.79" r="1.5"/><circle cx="270.73" cy="148.19" r="1.5"/><circle cx="260.85" cy="135.78" r="1.5"/><circle cx="269.2" cy="159.29" r="1.5"/><circle cx="258.57" cy="160.96" r="1.5"/><circle cx="274.4" cy="147.84" r="1.5"/><circle cx="259.02" cy="149.45" r="1.5"/><circle cx="261.31" cy="160.64" r="1.5"/><circle cx="271.99" cy="142.73" r="1.5"/><circle cx="284.18" cy="154.7" r="1.5"/><circle cx="250.13" cy="129.54" r="1.5"/><circle cx="277.5" cy="160.77" r="1.5"/><circle cx="262.65" cy="151.35" r="1.5"/><circle cx="266.27" cy="129.06" r="1.5"/><circle cx="265.58" cy="141.66" r="1.5"/><circle cx="260.38" cy="146.82" r="1.5"/><circle cx="270.82" cy="155.48" r="1.5"/><circle cx="271.94" cy="159.62" r="1.5"/><circle cx="277.97" cy="165.17" r="1.5"/><circle cx="269.12" cy="139.41" r="1.5"/><circle cx="258.71" cy="140.44" r="1.5"/><circle cx="261.8" cy="156.37" r="1.5"/><circle cx="260.75" cy="135.78" r="1.5"/><circle cx="267.81" cy="163.37" r="1.5"/><circle cx="273.6" cy="136.83" r="1.5"/><circle cx="265.85" cy="152.68" r="1.5"/><circle cx="268.46" cy="158.27" r="1.5"/><circle cx="263.72" cy="144.43" r="1.5"/><circle cx="269.16" cy="132.15" r="1.5"/><circle cx="266.05" cy="157.85" r="1.5"/><circle cx="276.96" cy="155.27" r="1.5"/><circle cx="260.6" cy="144.19" r="1.5"/><circle cx="270" cy="148.79" r="1.5"/><circle cx="265.85" cy="140.43" r="1.5"/><circle cx="252.32" cy="151.39" r="1.5"/><circle cx="266.75" cy="156.28" r="1.5"/><circle cx="261.64" cy="144.52" r="1.5"/><circle cx="265.12" cy="151.39" r="1.5"/><circle cx="258.72" cy="159.81" r="1.5"/><circle cx="270.53" cy="154.45" r="1.5"/><circle cx="262.09" cy="163.02" r="1.5"/><circle cx="273.6" cy="141.81" r="1.5"/><circle cx="266.03" cy="143.68" r="1.5"/><circle cx="266.72" cy="150.02" r="1.5"/><circle cx="258.66" cy="135.52" r="1.5"/><circle cx="267.7" cy="156.08" r="1.5"/><circle cx="271.69" cy="152.68" r="1.5"/><circle cx="276.44" cy="135.96" r="1.5"/><circle cx="270.04" cy="140.98" r="1.5"/><circle cx="262.04" cy="163.87" r="1.5"/><circle cx="277.51" cy="155.69" r="1.5"/><circle cx="274.81" cy="147.33" r="1.5"/><circle cx="268.74" cy="155.91" r="1.5"/><circle cx="269.3" cy="164.7" r="1.5"/><circle cx="260.91" cy="153.28" r="1.5"/><circle cx="277.04" cy="149.29" r="1.5"/><circle cx="266.41" cy="148.51" r="1.5"/><circle cx="267.45" cy="135.63" r="1.5"/><circle cx="270.12" cy="141.22" r="1.5"/><circle cx="270.02" cy="135.86" r="1.5"/><circle cx="281.23" cy="155.23" r="1.5"/><circle cx="272.49" cy="142.3" r="1.5"/><circle cx="268.06" cy="149.24" r="1.5"/><circle cx="256.05" cy="149.32" r="1.5"/><circle cx="255.82" cy="151.37" r="1.5"/><circle cx="258.94" cy="163.65" r="1.5"/><circle cx="266.69" cy="162.79" r="1.5"/><circle cx="253.52" cy="162.14" r="1.5"/><circle cx="271.77" cy="158.35" r="1.5"/><circle cx="266.57" cy="154.84" r="1.5"/><circle cx="254.77" cy="155.92" r="1.5"/><circle cx="277.53" cy="167.46" r="1.5"/><circle cx="270.44" cy="167.7" r="1.5"/><circle cx="279.24" cy="157.23" r="1.5"/><circle cx="264.04" cy="164.09" r="1.5"/><circle cx="272.04" cy="164.02" r="1.5"/><circle cx="261.52" cy="158.46" r="1.5"/><circle cx="257.98" cy="161" r="1.5"/><circle cx="264.71" cy="154.14" r="1.5"/><circle cx="266.31" cy="159.09" r="1.5"/><circle cx="268.7" cy="167.18" r="1.5"/><circle cx="268.3" cy="155.77" r="1.5"/><circle cx="254.87" cy="141.8" r="1.5"/><circle cx="255.91" cy="145.97" r="1.5"/><circle cx="260.22" cy="150.61" r="1.5"/><circle cx="259.39" cy="148.81" r="1.5"/><circle cx="272.58" cy="159.72" r="1.5"/><circle cx="267.26" cy="152.28" r="1.5"/><circle cx="249.43" cy="137.3" r="1.5"/><circle cx="275.79" cy="127" r="1.5"/><circle cx="255.38" cy="154.76" r="1.5"/><circle cx="274.01" cy="144.55" r="1.5"/><circle cx="264.62" cy="158.93" r="1.5"/><circle cx="260.62" cy="150.36" r="1.5"/><circle cx="250.89" cy="166.91" r="1.5"/><circle cx="254.35" cy="164.59" r="1.5"/><circle cx="250.57" cy="130.79" r="1.5"/><circle cx="256.46" cy="144.22" r="1.5"/><circle cx="272.48" cy="161.43" r="1.5"/><circle cx="262.18" cy="158.57" r="1.5"/><circle cx="266.35" cy="151.31" r="1.5"/><circle cx="263.81" cy="152.87" r="1.5"/><circle cx="249.92" cy="162.48" r="1.5"/><circle cx="262.72" cy="161.83" r="1.5"/><circle cx="242.8" cy="140.24" r="1.5"/><circle cx="260.37" cy="151.49" r="1.5"/><circle cx="250.9" cy="143.54" r="1.5"/><circle cx="275.58" cy="146.31" r="1.5"/><circle cx="260.99" cy="163.23" r="1.5"/><circle cx="263.53" cy="160.09" r="1.5"/><circle cx="261.4" cy="148.84" r="1.5"/><circle cx="283.69" cy="135.07" r="1.5"/><circle cx="259.29" cy="164.06" r="1.5"/><circle cx="267.59" cy="157.66" r="1.5"/><circle cx="264.66" cy="148.7" r="1.5"/><circle cx="261.5" cy="146.09" r="1.5"/><circle cx="262.85" cy="136.11" r="1.5"/><circle cx="274.57" cy="145.72" r="1.5"/><circle cx="248.6" cy="160.55" r="1.5"/><circle cx="285.38" cy="149.63" r="1.5"/><circle cx="265.19" cy="161.21" r="1.5"/><circle cx="265.35" cy="165.85" r="1.5"/><circle cx="264.55" cy="151.48" r="1.5"/><circle cx="272.28" cy="160.08" r="1.5"/><circle cx="264.5" cy="157.45" r="1.5"/><circle cx="255.14" cy="160.83" r="1.5"/><circle cx="261.34" cy="143.95" r="1.5"/><circle cx="264.17" cy="166.61" r="1.5"/><circle cx="264.07" cy="138.51" r="1.5"/><circle cx="264.67" cy="146.77" r="1.5"/><circle cx="272.7" cy="166.64" r="1.5"/><circle cx="251.34" cy="155.34" r="1.5"/><circle cx="266.99" cy="163.33" r="1.5"/><circle cx="274.63" cy="137.58" r="1.5"/><circle cx="266.51" cy="153.83" r="1.5"/><circle cx="274.99" cy="133.72" r="1.5"/><circle cx="264.95" cy="156.81" r="1.5"/><circle cx="273.22" cy="136.34" r="1.5"/><circle cx="252.08" cy="153.4" r="1.5"/><circle cx="268.26" cy="157.08" r="1.5"/><circle cx="258.76" cy="144.67" r="1.5"/><circle cx="258.61" cy="151.87" r="1.5"/><circle cx="257.79" cy="163.33" r="1.5"/><circle cx="267.97" cy="132.38" r="1.5"/><circle cx="261.4" cy="162.58" r="1.5"/><circle cx="260.66" cy="149.25" r="1.5"/><circle cx="251.57" cy="159.06" r="1.5"/><circle cx="257.56" cy="157.45" r="1.5"/><circle cx="259.35" cy="156.45" r="1.5"/><circle cx="266" cy="156.4" r="1.5"/><circle cx="265.09" cy="129.36" r="1.5"/><circle cx="281.31" cy="162.98" r="1.5"/><circle cx="258.8" cy="161.07" r="1.5"/><circle cx="216.13" cy="143.19" r="1.5"/><circle cx="218.98" cy="150.59" r="1.5"/><circle cx="215.56" cy="153.06" r="1.5"/><circle cx="215.18" cy="158.75" r="1.5"/><circle cx="226.57" cy="141.1" r="1.5"/><circle cx="228.46" cy="155.33" r="1.5"/><circle cx="234.16" cy="157.23" r="1.5"/><circle cx="232.26" cy="137.87" r="1.5"/><circle cx="235.67" cy="133.13" r="1.5"/><circle cx="239.47" cy="131.61" r="1.5"/><circle cx="244.59" cy="129.72" r="1.5"/><circle cx="244.02" cy="138.25" r="1.5"/><circle cx="242.13" cy="154.95" r="1.5"/><circle cx="222.39" cy="163.49" r="1.5"/><circle cx="299.24" cy="139.58" r="1.5"/><circle cx="302.47" cy="155.33" r="1.5"/><circle cx="287.67" cy="154.38" r="1.5"/><circle cx="286.34" cy="158.75" r="1.5"/><circle cx="309.68" cy="161.59" r="1.5"/><circle cx="297.72" cy="163.49" r="1.5"/><circle cx="285.39" cy="135.03" r="1.5"/><circle cx="281.97" cy="142.05" r="1.5"/>
</g>
<line x1="267" y1="10.2" x2="267" y2="175.4" stroke="#555" stroke-width="0.9" stroke-dasharray="3.2 1.4"/>
<line x1="204.8" y1="125.94" x2="329.5" y2="125.94" stroke="#222" stroke-width="1" stroke-dasharray="3.2 1.4"/>
<g fill="#4a4aff" fill-opacity="0.8">
<circle cx="257.1" cy="71.4" r="1.5"/><circle cx="255.4" cy="96.1" r="1.5"/><circle cx="243.1" cy="108.5" r="1.5"/><circle cx="251.6" cy="107.1" r="1.5"/><circle cx="257.9" cy="110.4" r="1.5"/><circle cx="263.4" cy="110.4" r="1.5"/><circle cx="255.6" cy="113.2" r="1.5"/><circle cx="258.4" cy="114.2" r="1.5"/><circle cx="261.9" cy="117" r="1.5"/><circle cx="260" cy="118.9" r="1.5"/><circle cx="259.2" cy="119.5" r="1.5"/><circle cx="247.2" cy="119.8" r="1.5"/><circle cx="256.4" cy="120.4" r="1.5"/><circle cx="247.2" cy="123.1" r="1.5"/><circle cx="255.4" cy="123.1" r="1.5"/>
</g>
<g fill="#ff3e3e" fill-opacity="0.75">
<circle cx="284.6" cy="87.8" r="1.5"/><circle cx="277.4" cy="98.4" r="1.5"/><circle cx="280.3" cy="100.9" r="1.5"/><circle cx="289.8" cy="102" r="1.5"/><circle cx="283.1" cy="107.9" r="1.5"/><circle cx="275.9" cy="118" r="1.5"/><circle cx="277.2" cy="118.5" r="1.5"/><circle cx="280.1" cy="118" r="1.5"/><circle cx="281.6" cy="118" r="1.5"/><circle cx="276.9" cy="121.4" r="1.5"/><circle cx="277.8" cy="122.7" r="1.5"/><circle cx="275.5" cy="123.6" r="1.5"/><circle cx="282" cy="123.1" r="1.5"/><circle cx="287.7" cy="123.1" r="1.5"/><circle cx="275" cy="125" r="1.5"/><circle cx="277.4" cy="125" r="1.5"/>
</g>
<g fill="#3f9a3f" fill-opacity="0.75">
<circle cx="247.8" cy="48.3" r="1.5"/><circle cx="250.3" cy="53" r="1.5"/>
</g>
<g fill="#f8a0a0" fill-opacity="0.8">
<circle cx="288.4" cy="17.5" r="1.5"/>
</g>
<line x1="204.8" y1="10.2" x2="204.8" y2="176" stroke="#222" stroke-width="1.4"/>
<line x1="204.1" y1="175.4" x2="329.5" y2="175.4" stroke="#222" stroke-width="1.4"/>
<line x1="201.2" y1="168" x2="204.8" y2="168" stroke="#222" stroke-width="1.1"/>
<text x="201.4" y="172.1" font-size="11.6" text-anchor="end" fill="#4a4a4a">0.0</text>
<line x1="201.2" y1="135.65" x2="204.8" y2="135.65" stroke="#222" stroke-width="1.1"/>
<text x="201.4" y="139.75" font-size="11.6" text-anchor="end" fill="#4a4a4a">1.0</text>
<line x1="201.2" y1="103.3" x2="204.8" y2="103.3" stroke="#222" stroke-width="1.1"/>
<text x="201.4" y="107.4" font-size="11.6" text-anchor="end" fill="#4a4a4a">2.0</text>
<line x1="201.2" y1="70.95" x2="204.8" y2="70.95" stroke="#222" stroke-width="1.1"/>
<text x="201.4" y="75.05" font-size="11.6" text-anchor="end" fill="#4a4a4a">3.0</text>
<line x1="201.2" y1="38.6" x2="204.8" y2="38.6" stroke="#222" stroke-width="1.1"/>
<text x="201.4" y="42.7" font-size="11.6" text-anchor="end" fill="#4a4a4a">4.0</text>
<line x1="210.2" y1="175.4" x2="210.2" y2="179.6" stroke="#222" stroke-width="1.1"/>
<line x1="238.6" y1="175.4" x2="238.6" y2="179.6" stroke="#222" stroke-width="1.1"/>
<line x1="267" y1="175.4" x2="267" y2="179.6" stroke="#222" stroke-width="1.1"/>
<line x1="295.4" y1="175.4" x2="295.4" y2="179.6" stroke="#222" stroke-width="1.1"/>
<line x1="323.8" y1="175.4" x2="323.8" y2="179.6" stroke="#222" stroke-width="1.1"/>
<text x="211" y="190.7" font-size="11.6" text-anchor="middle" fill="#4a4a4a">−1.0</text>
<text x="267.8" y="190.7" font-size="11.6" text-anchor="middle" fill="#4a4a4a">0.0</text>
<text x="324.6" y="190.7" font-size="11.6" text-anchor="middle" fill="#4a4a4a">1.0</text>
<text transform="translate(267 205) scale(0.965 1)" font-size="12.7" text-anchor="middle" fill="#000">Log<tspan font-size="8.13" dy="2.54">2</tspan><tspan dy="-2.54">(HS / Control)</tspan></text>
<text transform="translate(181.8 106.4) rotate(-90) scale(0.885 1)" font-size="12.8" text-anchor="middle" fill="#000">−Log<tspan font-size="8.7" dy="3.07">10</tspan><tspan dy="-3.07" font-size="10.24"> </tspan><tspan font-style="italic">P</tspan></text>
<text transform="translate(170 9.7) scale(0.78 1)" font-size="14" fill="#000">B</text>
<text x="291.7" y="19.2" font-size="10" text-anchor="start" fill="#111" font-weight="bold">AFM</text>
<text x="244" y="45.4" font-size="10" text-anchor="start" fill="#111" font-weight="bold">C4A</text>
<text x="230.9" y="64.2" font-size="10" text-anchor="start" fill="#111" font-weight="bold">APOA1</text>
<rect x="376.3" y="10.3" width="126.5" height="171.8" fill="#fff"/>
<line x1="387.1" y1="10.3" x2="387.1" y2="182.1" stroke="#ebebeb" stroke-width="0.7"/>
<line x1="403.4" y1="10.3" x2="403.4" y2="182.1" stroke="#ebebeb" stroke-width="0.7"/>
<line x1="419.7" y1="10.3" x2="419.7" y2="182.1" stroke="#ebebeb" stroke-width="0.7"/>
<line x1="436" y1="10.3" x2="436" y2="182.1" stroke="#ebebeb" stroke-width="0.7"/>
<line x1="452.3" y1="10.3" x2="452.3" y2="182.1" stroke="#ebebeb" stroke-width="0.7"/>
<line x1="468.6" y1="10.3" x2="468.6" y2="182.1" stroke="#ebebeb" stroke-width="0.7"/>
<line x1="484.9" y1="10.3" x2="484.9" y2="182.1" stroke="#ebebeb" stroke-width="0.7"/>
<line x1="376.3" y1="171.85" x2="502.8" y2="171.85" stroke="#ebebeb" stroke-width="0.7"/>
<line x1="376.3" y1="151.64" x2="502.8" y2="151.64" stroke="#ebebeb" stroke-width="0.7"/>
<line x1="376.3" y1="131.43" x2="502.8" y2="131.43" stroke="#ebebeb" stroke-width="0.7"/>
<line x1="376.3" y1="111.21" x2="502.8" y2="111.21" stroke="#ebebeb" stroke-width="0.7"/>
<line x1="376.3" y1="91" x2="502.8" y2="91" stroke="#ebebeb" stroke-width="0.7"/>
<line x1="376.3" y1="70.79" x2="502.8" y2="70.79" stroke="#ebebeb" stroke-width="0.7"/>
<line x1="376.3" y1="50.57" x2="502.8" y2="50.57" stroke="#ebebeb" stroke-width="0.7"/>
<line x1="376.3" y1="30.36" x2="502.8" y2="30.36" stroke="#ebebeb" stroke-width="0.7"/>
<ellipse cx="426.4" cy="84.9" rx="37.5" ry="68.6" transform="rotate(13.5 426.4 84.9)" fill="none" stroke="#9e9e9e" stroke-width="1.25"/>
<ellipse cx="454" cy="102.1" rx="42.6" ry="73.65" transform="rotate(6.8 454 102.1)" fill="none" stroke="#4c6c22" stroke-width="1.35"/>
<g fill="#a6a6a6">
<circle cx="399.6" cy="46.5" r="1.7"/><circle cx="413.3" cy="40.8" r="1.7"/><circle cx="409.7" cy="50.8" r="1.7"/><circle cx="404.8" cy="59.3" r="1.7"/><circle cx="421.8" cy="48.5" r="1.7"/><circle cx="424.5" cy="45.2" r="1.7"/><circle cx="425.1" cy="47.5" r="1.7"/><circle cx="430.5" cy="44" r="1.7"/><circle cx="439.1" cy="47.9" r="1.7"/><circle cx="451.5" cy="44.2" r="1.7"/><circle cx="454.4" cy="48.5" r="1.7"/><circle cx="447.6" cy="55.2" r="1.7"/><circle cx="416.2" cy="61.6" r="1.7"/><circle cx="418.7" cy="62.3" r="1.7"/><circle cx="427.2" cy="60.2" r="1.7"/><circle cx="436.1" cy="60.2" r="1.7"/><circle cx="426.4" cy="64.9" r="1.7"/><circle cx="426.6" cy="66.4" r="1.7"/><circle cx="450.7" cy="65.4" r="1.7"/><circle cx="428.5" cy="72.6" r="1.7"/><circle cx="435.3" cy="70.1" r="1.7"/><circle cx="436.8" cy="70.1" r="1.7"/><circle cx="435.5" cy="72.9" r="1.7"/><circle cx="446.5" cy="70.2" r="1.7"/><circle cx="448.2" cy="72.2" r="1.7"/><circle cx="439.5" cy="75.1" r="1.7"/><circle cx="443" cy="76.4" r="1.7"/><circle cx="420.8" cy="77.4" r="1.7"/><circle cx="428" cy="77" r="1.7"/><circle cx="429.9" cy="76.4" r="1.7"/><circle cx="410.6" cy="80.5" r="1.7"/><circle cx="438.6" cy="79.7" r="1.7"/><circle cx="416.8" cy="83.2" r="1.7"/><circle cx="433.7" cy="83.5" r="1.7"/><circle cx="450.7" cy="82.2" r="1.7"/><circle cx="449.2" cy="85.7" r="1.7"/><circle cx="441.5" cy="87.8" r="1.7"/><circle cx="406.4" cy="90.3" r="1.7"/><circle cx="463" cy="89.5" r="1.7"/><circle cx="425.6" cy="94.7" r="1.7"/><circle cx="422.2" cy="96.6" r="1.7"/><circle cx="409.3" cy="97.6" r="1.7"/><circle cx="421.8" cy="97.7" r="1.7"/><circle cx="401.6" cy="99.6" r="1.7"/><circle cx="402.5" cy="101" r="1.7"/><circle cx="408.7" cy="99.1" r="1.7"/><circle cx="408.3" cy="101.6" r="1.7"/><circle cx="398.7" cy="104.8" r="1.7"/><circle cx="419.9" cy="104.5" r="1.7"/><circle cx="427.6" cy="103.9" r="1.7"/><circle cx="405.2" cy="111.2" r="1.7"/><circle cx="427.6" cy="109.8" r="1.7"/><circle cx="431" cy="109.8" r="1.7"/><circle cx="436.1" cy="108.3" r="1.7"/><circle cx="438.2" cy="107.9" r="1.7"/><circle cx="415.2" cy="113.5" r="1.7"/><circle cx="423.7" cy="114.5" r="1.7"/><circle cx="440.9" cy="116.6" r="1.7"/><circle cx="420.3" cy="118.5" r="1.7"/><circle cx="428.2" cy="120.8" r="1.7"/><circle cx="428" cy="123.1" r="1.7"/><circle cx="460.1" cy="110.6" r="1.7"/><circle cx="417.9" cy="138.2" r="1.7"/><circle cx="409.7" cy="142.6" r="1.7"/><circle cx="381.7" cy="145.3" r="1.7"/><circle cx="411.4" cy="153" r="1.7"/>
</g>
<g fill="#4a6b22">
<circle cx="454.6" cy="38.6" r="1.7"/><circle cx="467.1" cy="42.1" r="1.7"/><circle cx="481.3" cy="59.6" r="1.7"/><circle cx="484.2" cy="63.3" r="1.7"/><circle cx="464.2" cy="67.9" r="1.7"/><circle cx="452" cy="72" r="1.7"/><circle cx="454" cy="72.2" r="1.7"/><circle cx="423.7" cy="77.6" r="1.7"/><circle cx="420.6" cy="84.5" r="1.7"/><circle cx="433.9" cy="86" r="1.7"/><circle cx="443.8" cy="84.5" r="1.7"/><circle cx="446.5" cy="82.2" r="1.7"/><circle cx="449.4" cy="90.9" r="1.7"/><circle cx="469.4" cy="89.1" r="1.7"/><circle cx="490.8" cy="91.3" r="1.7"/><circle cx="442.6" cy="95.1" r="1.7"/><circle cx="463.2" cy="90" r="1.7"/><circle cx="445.1" cy="100.6" r="1.7"/><circle cx="448.8" cy="106" r="1.7"/><circle cx="458.2" cy="104.5" r="1.7"/><circle cx="455.9" cy="106.8" r="1.7"/><circle cx="459.2" cy="107.3" r="1.7"/><circle cx="456.9" cy="115.1" r="1.7"/><circle cx="458.2" cy="115.6" r="1.7"/><circle cx="457.3" cy="117.4" r="1.7"/><circle cx="435.3" cy="118.3" r="1.7"/><circle cx="411.4" cy="122.8" r="1.7"/><circle cx="440.3" cy="124.1" r="1.7"/><circle cx="454.7" cy="123.7" r="1.7"/><circle cx="467.5" cy="125.5" r="1.7"/><circle cx="487.9" cy="128.9" r="1.7"/><circle cx="433.7" cy="132.2" r="1.7"/><circle cx="458.2" cy="139.1" r="1.7"/><circle cx="441.5" cy="149.5" r="1.7"/><circle cx="457.4" cy="148.6" r="1.7"/><circle cx="464.2" cy="151.1" r="1.7"/><circle cx="455.5" cy="158.6" r="1.7"/>
</g>
<rect x="376.3" y="10.3" width="126.5" height="171.8" fill="none" stroke="#262626" stroke-width="1.5"/>
<line x1="373.3" y1="10.15" x2="376.3" y2="10.15" stroke="#222" stroke-width="1"/>
<text x="372.3" y="13.45" font-size="10.3" text-anchor="end" fill="#4a4a4a">5.0</text>
<line x1="373.3" y1="50.57" x2="376.3" y2="50.57" stroke="#222" stroke-width="1"/>
<text x="372.3" y="53.87" font-size="10.3" text-anchor="end" fill="#4a4a4a">2.5</text>
<line x1="373.3" y1="91" x2="376.3" y2="91" stroke="#222" stroke-width="1"/>
<text x="372.3" y="94.3" font-size="10.3" text-anchor="end" fill="#4a4a4a">0.0</text>
<line x1="373.3" y1="131.43" x2="376.3" y2="131.43" stroke="#222" stroke-width="1"/>
<text x="372.3" y="134.73" font-size="10.3" text-anchor="end" fill="#4a4a4a">−2.5</text>
<line x1="373.3" y1="171.85" x2="376.3" y2="171.85" stroke="#222" stroke-width="1"/>
<text x="372.3" y="175.15" font-size="10.3" text-anchor="end" fill="#4a4a4a">−5.0</text>
<line x1="403.4" y1="182.1" x2="403.4" y2="185.1" stroke="#222" stroke-width="1"/>
<text x="404.2" y="194.3" font-size="10.3" text-anchor="middle" fill="#4a4a4a">−4.0</text>
<line x1="436" y1="182.1" x2="436" y2="185.1" stroke="#222" stroke-width="1"/>
<text x="436.8" y="194.3" font-size="10.3" text-anchor="middle" fill="#4a4a4a">0.0</text>
<line x1="468.6" y1="182.1" x2="468.6" y2="185.1" stroke="#222" stroke-width="1"/>
<text x="469.4" y="194.3" font-size="10.3" text-anchor="middle" fill="#4a4a4a">4.0</text>
<text x="438.9" y="207.2" font-size="11.6" text-anchor="middle" fill="#000">X−variate 1: 17% expl. var</text>
<text transform="translate(349.7 96.9) rotate(-90)" font-size="11.4" text-anchor="middle">X−variate 2: 12% expl. var</text>
<text transform="translate(339.8 10.1) scale(0.86 1)" font-size="14" fill="#000">C</text>
<rect x="548.4" y="10.3" width="126.2" height="171.8" fill="#fff"/>
<line x1="555.92" y1="10.3" x2="555.92" y2="182.1" stroke="#ebebeb" stroke-width="0.7"/>
<line x1="570.37" y1="10.3" x2="570.37" y2="182.1" stroke="#ebebeb" stroke-width="0.7"/>
<line x1="584.81" y1="10.3" x2="584.81" y2="182.1" stroke="#ebebeb" stroke-width="0.7"/>
<line x1="599.25" y1="10.3" x2="599.25" y2="182.1" stroke="#ebebeb" stroke-width="0.7"/>
<line x1="613.7" y1="10.3" x2="613.7" y2="182.1" stroke="#ebebeb" stroke-width="0.7"/>
<line x1="628.15" y1="10.3" x2="628.15" y2="182.1" stroke="#ebebeb" stroke-width="0.7"/>
<line x1="642.59" y1="10.3" x2="642.59" y2="182.1" stroke="#ebebeb" stroke-width="0.7"/>
<line x1="657.04" y1="10.3" x2="657.04" y2="182.1" stroke="#ebebeb" stroke-width="0.7"/>
<line x1="671.48" y1="10.3" x2="671.48" y2="182.1" stroke="#ebebeb" stroke-width="0.7"/>
<line x1="548.4" y1="165.35" x2="674.6" y2="165.35" stroke="#ebebeb" stroke-width="0.7"/>
<line x1="548.4" y1="144.1" x2="674.6" y2="144.1" stroke="#ebebeb" stroke-width="0.7"/>
<line x1="548.4" y1="122.85" x2="674.6" y2="122.85" stroke="#ebebeb" stroke-width="0.7"/>
<line x1="548.4" y1="101.6" x2="674.6" y2="101.6" stroke="#ebebeb" stroke-width="0.7"/>
<line x1="548.4" y1="80.35" x2="674.6" y2="80.35" stroke="#ebebeb" stroke-width="0.7"/>
<line x1="548.4" y1="59.1" x2="674.6" y2="59.1" stroke="#ebebeb" stroke-width="0.7"/>
<line x1="548.4" y1="37.85" x2="674.6" y2="37.85" stroke="#ebebeb" stroke-width="0.7"/>
<line x1="548.4" y1="16.6" x2="674.6" y2="16.6" stroke="#ebebeb" stroke-width="0.7"/>
<ellipse cx="620.2" cy="105.1" rx="38.2" ry="52.7" transform="rotate(18.5 620.2 105.1)" fill="none" stroke="#9e9e9e" stroke-width="1.25"/>
<ellipse cx="592.1" cy="90.45" rx="33.7" ry="68.9" transform="rotate(6.9 592.1 90.45)" fill="none" stroke="#4c6c22" stroke-width="1.35"/>
<g fill="#a6a6a6">
<circle cx="631.8" cy="65.4" r="1.7"/><circle cx="639.9" cy="65.8" r="1.7"/><circle cx="627.9" cy="68.3" r="1.7"/><circle cx="638.7" cy="68.1" r="1.7"/><circle cx="644.1" cy="68.5" r="1.7"/><circle cx="621.5" cy="72.9" r="1.7"/><circle cx="618.3" cy="74.5" r="1.7"/><circle cx="602.5" cy="74.7" r="1.7"/><circle cx="638.7" cy="72.8" r="1.7"/><circle cx="621.7" cy="75.5" r="1.7"/><circle cx="648.7" cy="76.4" r="1.7"/><circle cx="645.6" cy="77.4" r="1.7"/><circle cx="592.8" cy="76.4" r="1.7"/><circle cx="622.7" cy="79.7" r="1.7"/><circle cx="617.7" cy="80.8" r="1.7"/><circle cx="631.8" cy="79.7" r="1.7"/><circle cx="636" cy="79.7" r="1.7"/><circle cx="618.3" cy="83.2" r="1.7"/><circle cx="597.1" cy="82.8" r="1.7"/><circle cx="595.7" cy="84.1" r="1.7"/><circle cx="620" cy="85.1" r="1.7"/><circle cx="630.8" cy="84.5" r="1.7"/><circle cx="637.5" cy="84.1" r="1.7"/><circle cx="640.4" cy="84.1" r="1.7"/><circle cx="643.3" cy="84.1" r="1.7"/><circle cx="647.6" cy="85.1" r="1.7"/><circle cx="586.1" cy="87.4" r="1.7"/><circle cx="605.7" cy="87" r="1.7"/><circle cx="614.8" cy="87.4" r="1.7"/><circle cx="624.6" cy="88.9" r="1.7"/><circle cx="629.3" cy="90.5" r="1.7"/><circle cx="634.3" cy="89.3" r="1.7"/><circle cx="649.1" cy="89.3" r="1.7"/><circle cx="607.7" cy="91.3" r="1.7"/><circle cx="611.1" cy="92" r="1.7"/><circle cx="616.9" cy="93.2" r="1.7"/><circle cx="659.3" cy="92.8" r="1.7"/><circle cx="651.6" cy="95.7" r="1.7"/><circle cx="635" cy="93.4" r="1.7"/><circle cx="591.9" cy="95.1" r="1.7"/><circle cx="601.9" cy="95.7" r="1.7"/><circle cx="624.1" cy="94.7" r="1.7"/><circle cx="597.1" cy="98.1" r="1.7"/><circle cx="599.6" cy="99.1" r="1.7"/><circle cx="628.9" cy="97.7" r="1.7"/><circle cx="640.4" cy="98.3" r="1.7"/><circle cx="633.1" cy="99.6" r="1.7"/><circle cx="614.4" cy="101.9" r="1.7"/><circle cx="618.8" cy="101.9" r="1.7"/><circle cx="606.3" cy="103.5" r="1.7"/><circle cx="627.9" cy="103.5" r="1.7"/><circle cx="618.3" cy="105.4" r="1.7"/><circle cx="633.7" cy="105.4" r="1.7"/><circle cx="613.8" cy="107.7" r="1.7"/><circle cx="622.1" cy="109.3" r="1.7"/><circle cx="603.8" cy="108.7" r="1.7"/><circle cx="629.4" cy="110.8" r="1.7"/><circle cx="619.8" cy="114.1" r="1.7"/><circle cx="605.7" cy="116" r="1.7"/><circle cx="611.5" cy="115.6" r="1.7"/><circle cx="618.3" cy="115.6" r="1.7"/><circle cx="581.7" cy="117" r="1.7"/><circle cx="594.6" cy="118.5" r="1.7"/><circle cx="597.6" cy="119.3" r="1.7"/><circle cx="607.3" cy="119.9" r="1.7"/><circle cx="629.3" cy="117.9" r="1.7"/><circle cx="640.4" cy="117.4" r="1.7"/><circle cx="653.5" cy="118.9" r="1.7"/><circle cx="668.6" cy="115.2" r="1.7"/><circle cx="586.5" cy="123.1" r="1.7"/><circle cx="591.9" cy="122.8" r="1.7"/><circle cx="605.7" cy="122.8" r="1.7"/><circle cx="609.2" cy="123.1" r="1.7"/><circle cx="617.3" cy="123.7" r="1.7"/><circle cx="623.9" cy="123.7" r="1.7"/><circle cx="628.9" cy="123.1" r="1.7"/><circle cx="633.7" cy="124.1" r="1.7"/><circle cx="652.4" cy="125.3" r="1.7"/><circle cx="599" cy="128.2" r="1.7"/><circle cx="612.9" cy="128.2" r="1.7"/><circle cx="620.2" cy="127.6" r="1.7"/><circle cx="630.8" cy="128.2" r="1.7"/><circle cx="606.7" cy="131.4" r="1.7"/><circle cx="605.4" cy="132.8" r="1.7"/><circle cx="622.5" cy="132" r="1.7"/><circle cx="624.1" cy="133.4" r="1.7"/><circle cx="630.8" cy="134.7" r="1.7"/><circle cx="614.8" cy="134.7" r="1.7"/><circle cx="615" cy="139.1" r="1.7"/><circle cx="605.7" cy="141.5" r="1.7"/><circle cx="619.2" cy="141.6" r="1.7"/><circle cx="622.5" cy="147.2" r="1.7"/><circle cx="651.8" cy="150.1" r="1.7"/><circle cx="613.3" cy="161.9" r="1.7"/><circle cx="614.2" cy="175.2" r="1.7"/>
</g>
<g fill="#4a6b22">
<circle cx="615.8" cy="18" r="1.7"/><circle cx="592.1" cy="31.1" r="1.7"/><circle cx="584.2" cy="53.7" r="1.7"/><circle cx="602.5" cy="58.9" r="1.7"/><circle cx="576.3" cy="64.3" r="1.7"/><circle cx="591.1" cy="69.7" r="1.7"/><circle cx="604.8" cy="71.6" r="1.7"/><circle cx="607.3" cy="73.3" r="1.7"/><circle cx="567" cy="75.5" r="1.7"/><circle cx="584.5" cy="76.6" r="1.7"/><circle cx="588.4" cy="76.2" r="1.7"/><circle cx="592.3" cy="80.1" r="1.7"/><circle cx="606.1" cy="79.5" r="1.7"/><circle cx="580.1" cy="81.4" r="1.7"/><circle cx="576.6" cy="83.5" r="1.7"/><circle cx="571.2" cy="88.9" r="1.7"/><circle cx="582.2" cy="89.9" r="1.7"/><circle cx="579.7" cy="90.9" r="1.7"/><circle cx="599" cy="89.1" r="1.7"/><circle cx="610.2" cy="94.4" r="1.7"/><circle cx="605.5" cy="96.5" r="1.7"/><circle cx="593" cy="98.7" r="1.7"/><circle cx="591.7" cy="107.5" r="1.7"/><circle cx="594.2" cy="109.3" r="1.7"/><circle cx="597.1" cy="109.8" r="1.7"/><circle cx="603.4" cy="113.1" r="1.7"/><circle cx="601.9" cy="114.1" r="1.7"/><circle cx="610.6" cy="112.2" r="1.7"/><circle cx="602.3" cy="116.6" r="1.7"/><circle cx="602.9" cy="122.4" r="1.7"/><circle cx="613.6" cy="123.3" r="1.7"/><circle cx="574.3" cy="117.9" r="1.7"/><circle cx="575.7" cy="126.2" r="1.7"/><circle cx="553.7" cy="171.9" r="1.7"/>
</g>
<rect x="548.4" y="10.3" width="126.2" height="171.8" fill="none" stroke="#262626" stroke-width="1.5"/>
<line x1="545.4" y1="16.6" x2="548.4" y2="16.6" stroke="#222" stroke-width="1"/>
<text x="544.4" y="19.9" font-size="10.3" text-anchor="end" fill="#4a4a4a">5.0</text>
<line x1="545.4" y1="59.1" x2="548.4" y2="59.1" stroke="#222" stroke-width="1"/>
<text x="544.4" y="62.4" font-size="10.3" text-anchor="end" fill="#4a4a4a">2.5</text>
<line x1="545.4" y1="101.6" x2="548.4" y2="101.6" stroke="#222" stroke-width="1"/>
<text x="544.4" y="104.9" font-size="10.3" text-anchor="end" fill="#4a4a4a">0.0</text>
<line x1="545.4" y1="144.1" x2="548.4" y2="144.1" stroke="#222" stroke-width="1"/>
<text x="544.4" y="147.4" font-size="10.3" text-anchor="end" fill="#4a4a4a">−2.5</text>
<line x1="584.81" y1="182.1" x2="584.81" y2="185.1" stroke="#222" stroke-width="1"/>
<text x="585.61" y="194.3" font-size="10.3" text-anchor="middle" fill="#4a4a4a">−3.0</text>
<line x1="613.7" y1="182.1" x2="613.7" y2="185.1" stroke="#222" stroke-width="1"/>
<text x="614.5" y="194.3" font-size="10.3" text-anchor="middle" fill="#4a4a4a">0.0</text>
<line x1="642.59" y1="182.1" x2="642.59" y2="185.1" stroke="#222" stroke-width="1"/>
<text x="643.39" y="194.3" font-size="10.3" text-anchor="middle" fill="#4a4a4a">3.0</text>
<text x="611.5" y="207.2" font-size="11.6" text-anchor="middle" fill="#000">X−variate 1: 10% expl. var</text>
<text transform="translate(523.3 101.0) rotate(-90)" font-size="11.4" text-anchor="middle">X−variate 2: 5% expl. var</text>
<text transform="translate(512.9 9.9) scale(0.93 1)" font-size="14" fill="#000">D</text>
<text x="145.2" y="232.89" font-size="7.45" text-anchor="end" fill="#505050">Negative Regulation Of Response</text>
<text x="145.2" y="237.99" font-size="7.45" text-anchor="end" fill="#505050">To Stimulus</text>
<text x="145.2" y="245.89" font-size="7.45" text-anchor="end" fill="#505050">Regulation Of Vesicle Mediated Transport</text>
<text x="145.2" y="254.99" font-size="7.45" text-anchor="end" fill="#505050">Regulation Of Catabolic Process</text>
<text x="145.2" y="263.79" font-size="7.45" text-anchor="end" fill="#505050">Regulation Of Immune System Process</text>
<text x="145.2" y="272.59" font-size="7.45" text-anchor="end" fill="#505050">Cell Killing</text>
<text x="145.2" y="281.79" font-size="7.45" text-anchor="end" fill="#505050">Immune Effector Process</text>
<text x="145.2" y="290.09" font-size="7.45" text-anchor="end" fill="#505050">Wound Healing</text>
<text x="145.2" y="299.39" font-size="7.45" text-anchor="end" fill="#505050">Regulation Of Defense Response</text>
<text x="145.2" y="307.49" font-size="7.45" text-anchor="end" fill="#505050">Import Into Cell</text>
<text x="145.2" y="315.49" font-size="7.45" text-anchor="end" fill="#505050">Regulation Of Protein Catabolic Process</text>
<text x="143.2" y="321.99" font-size="7.45" text-anchor="end" fill="#505050">Disruption Of Anatomical Structure In</text>
<text x="145.2" y="326.99" font-size="7.45" text-anchor="end" fill="#505050">Another Organism</text>
<text x="145.2" y="332.09" font-size="7.45" text-anchor="end" fill="#505050">Positive Regulation Of Phosphorus</text>
<text x="145.2" y="337.39" font-size="7.45" text-anchor="end" fill="#505050">Metabolic Process</text>
<text x="145.2" y="344.19" font-size="7.45" text-anchor="end" fill="#505050">Negative Regulation Of Immune Response</text>
<text x="145.2" y="351.49" font-size="7.45" text-anchor="end" fill="#505050">Regulation Of Innate Immune Response</text>
<text x="145.2" y="358.99" font-size="7.45" text-anchor="end" fill="#505050">Phosphatidylinositol 3 Kinase Protein</text>
<text x="145.2" y="364.49" font-size="7.45" text-anchor="end" fill="#505050">Kinase B Signal Transduction</text>
<text x="145.2" y="371.79" font-size="7.45" text-anchor="end" fill="#505050">Endocytosis</text>
<text x="145.2" y="379.59" font-size="7.45" text-anchor="end" fill="#383838" font-weight="bold">Acute Phase Response</text>
<text x="145.2" y="386.59" font-size="7.45" text-anchor="end" fill="#505050">Regulation Of Body Fluid Levels</text>
<text x="145.2" y="394.39" font-size="7.45" text-anchor="end" fill="#505050">Positive Regulation Of Protein Catabolic</text>
<text x="145.2" y="399.19" font-size="7.45" text-anchor="end" fill="#505050">Process</text>
<text x="145.2" y="406.69" font-size="7.45" text-anchor="end" fill="#505050">Leukocyte Proliferation</text>
<text x="145.2" y="414.69" font-size="7.45" text-anchor="end" fill="#505050">Negative Regulation Of Coagulation</text>
<text x="145.2" y="423.79" font-size="7.45" text-anchor="end" fill="#505050">Regulation Of Coagulation</text>
<text x="145.2" y="432.89" font-size="7.45" text-anchor="end" fill="#505050">Positive Regulation Of Endocytosis</text>
<text x="145.2" y="441.69" font-size="7.45" text-anchor="end" fill="#505050">Positive Regulation Of Coagulation</text>
<text x="145.2" y="450.49" font-size="7.45" text-anchor="end" fill="#505050">Response To Bacterium</text>
<text x="145.2" y="458.99" font-size="7.45" text-anchor="end" fill="#505050">Hemostasis</text>
<text x="145.2" y="467.99" font-size="7.45" text-anchor="end" fill="#505050">Regulation Of Wound Healing</text>
<text x="145.2" y="477.59" font-size="7.45" text-anchor="end" fill="#505050">Regulation Of Response To Wounding</text>
<text x="145.2" y="486.09" font-size="7.45" text-anchor="end" fill="#505050">Lipid Biosynthetic Process</text>
<text x="145.2" y="495.39" font-size="7.45" text-anchor="end" fill="#505050">Regulation Of Adaptive Immune Response</text>
<text x="145.2" y="501.89" font-size="7.45" text-anchor="end" fill="#505050">Biological Process Involved In Interspecies</text>
<text x="145.2" y="506.69" font-size="7.45" text-anchor="end" fill="#505050">Interaction Between Organisms</text>
<text x="145.2" y="512.19" font-size="7.45" text-anchor="end" fill="#383838" font-weight="bold">Positive Regulation Of Immune</text>
<text x="145.2" y="517.19" font-size="7.45" text-anchor="end" fill="#383838" font-weight="bold">System Process</text>
<text x="145.2" y="523.29" font-size="7.45" text-anchor="end" fill="#505050">Regulation Of Immune Effector Process</text>
<text x="145.2" y="528.79" font-size="7.45" text-anchor="end" fill="#505050">Negative Regulation Of Response To</text>
<text x="145.2" y="533.99" font-size="7.45" text-anchor="end" fill="#505050">External Stimulus</text>
<text x="145.2" y="539.69" font-size="7.45" text-anchor="end" fill="#505050">Regulation Of Leukocyte Mediated</text>
<text x="145.2" y="544.69" font-size="7.45" text-anchor="end" fill="#505050">Immunity</text>
<text x="144.5" y="550.49" font-size="7.45" text-anchor="end" fill="#505050">Regulation Of Response To Stress</text>
<text x="144.2" y="556.49" font-size="7.45" text-anchor="end" fill="#505050">Myeloid Leukocyte Activation</text>
<text x="145.2" y="562.29" font-size="7.45" text-anchor="end" fill="#505050">Negative Regulation Of Response</text>
<text x="145.2" y="567.49" font-size="7.45" text-anchor="end" fill="#505050">To Wounding</text>
<text x="143.7" y="573.59" font-size="7.45" text-anchor="end" fill="#505050">Regulation Of Lymphocyte Mediated</text>
<text x="143.7" y="578.79" font-size="7.45" text-anchor="end" fill="#505050">Immunity</text>
<text x="144.5" y="585.38" font-size="7.45" text-anchor="end" fill="#505050">Negative Regulation Of Wound Healing</text>
<text x="145.2" y="593.59" font-size="7.45" text-anchor="end" fill="#505050">Positive Regulation Of Catabolic Process</text>
<text x="145.2" y="602.19" font-size="7.45" text-anchor="end" fill="#383838" font-weight="bold">Acute Inflammatory Response</text>
<text x="143.7" y="609.19" font-size="7.45" text-anchor="end" fill="#505050">Regulation Of Response To</text>
<text x="145.2" y="614.19" font-size="7.45" text-anchor="end" fill="#505050">External Stimulus</text>
<text x="144.5" y="621.79" font-size="7.45" text-anchor="end" fill="#505050">Vesicle Mediated Transport</text>
<text x="145.2" y="629.49" font-size="7.45" text-anchor="end" fill="#505050">Regulation Of Lipid Biosynthetic Process</text>
<text x="145.2" y="637.88" font-size="7.45" text-anchor="end" fill="#505050">Regulation Of Humoral Immune Response</text>
<text x="145.2" y="646.88" font-size="7.45" text-anchor="end" fill="#505050">Cell Recognition</text>
<text x="145.2" y="655.69" font-size="7.45" text-anchor="end" fill="#505050">Defense Response To Symbiont</text>
<text x="144.5" y="664.29" font-size="7.45" text-anchor="end" fill="#505050">Opsonization</text>
<text x="144.5" y="673.59" font-size="7.45" text-anchor="end" fill="#505050">Defense Response To Other Organism</text>
<text x="143.45" y="682.59" font-size="7.45" text-anchor="end" fill="#505050">Humoral Immune Response</text>
<text x="143.2" y="691.88" font-size="7.45" text-anchor="end" fill="#505050">Regulation Of Immune Response</text>
<text x="144.5" y="700.38" font-size="7.45" text-anchor="end" fill="#505050">Positive Regulation Of Immune Response</text>
<text x="145.2" y="709.49" font-size="7.45" text-anchor="end" fill="#505050">Complement Activation Alternative Pathway</text>
<text x="143.95" y="717.99" font-size="7.45" text-anchor="end" fill="#505050">Phagocytosis Recognition</text>
<text x="144.5" y="724.38" font-size="7.45" text-anchor="end" fill="#505050">Humoral Immune Response Mediated By</text>
<text x="142.45" y="729.38" font-size="7.45" text-anchor="end" fill="#505050">Circulating Immunoglobulin</text>
<text x="143.7" y="736.09" font-size="7.45" text-anchor="end" fill="#505050">Activation Of Immune Response</text>
<text x="144.2" y="744.69" font-size="7.45" text-anchor="end" fill="#505050">Complement Activation Classical Pathway</text>
<text x="145.2" y="754.19" font-size="7.45" text-anchor="end" fill="#383838" font-weight="bold">Complement Activation</text>
<text x="145.2" y="763.29" font-size="7.45" text-anchor="end" fill="#383838" font-weight="bold">Supramolecular Fiber Organization</text>
<text x="143.7" y="772.09" font-size="7.45" text-anchor="end" fill="#505050">Monoatomic Cation Transport</text>
<text x="145.2" y="781.29" font-size="7.45" text-anchor="end" fill="#505050">Cell Cycle</text>
<text x="144.2" y="790.38" font-size="7.45" text-anchor="end" fill="#505050">Muscle Tissue Development</text>
<text x="144.5" y="798.38" font-size="7.45" text-anchor="end" fill="#505050">Endomembrane System Organization</text>
<text x="145.2" y="805.19" font-size="7.45" text-anchor="end" fill="#505050">Cell Cell Adhesion Via Plasma Membrane</text>
<text x="145.2" y="810.49" font-size="7.45" text-anchor="end" fill="#505050">Adhesion Molecules</text>
<text x="145.2" y="817.19" font-size="7.45" text-anchor="end" fill="#505050">Muscle Cell Differentiation</text>
<text x="145.2" y="825.79" font-size="7.45" text-anchor="end" fill="#505050">Actin Filament Based Process</text>
<text x="144.2" y="834.09" font-size="7.45" text-anchor="end" fill="#505050">Nuclear Transport</text>
<text x="145.2" y="842.09" font-size="7.45" text-anchor="end" fill="#383838" font-weight="bold">Cell Projection Organization</text>
<text x="145.2" y="850.09" font-size="7.45" text-anchor="end" fill="#505050">Regulation Of Actin Filament Based</text>
<text x="145.2" y="855.38" font-size="7.45" text-anchor="end" fill="#505050">Process</text>
<text x="145.2" y="861.29" font-size="7.45" text-anchor="end" fill="#383838" font-weight="bold">Regulation Of Cytoskeleton</text>
<text x="145.2" y="866.88" font-size="7.45" text-anchor="end" fill="#383838" font-weight="bold">Organization</text>
<line x1="146" y1="235.1" x2="148.2" y2="235.1" stroke="#222" stroke-width="0.8"/>
<line x1="146" y1="244.02" x2="148.2" y2="244.02" stroke="#222" stroke-width="0.8"/>
<line x1="146" y1="252.93" x2="148.2" y2="252.93" stroke="#222" stroke-width="0.8"/>
<line x1="146" y1="261.85" x2="148.2" y2="261.85" stroke="#222" stroke-width="0.8"/>
<line x1="146" y1="270.76" x2="148.2" y2="270.76" stroke="#222" stroke-width="0.8"/>
<line x1="146" y1="279.68" x2="148.2" y2="279.68" stroke="#222" stroke-width="0.8"/>
<line x1="146" y1="288.6" x2="148.2" y2="288.6" stroke="#222" stroke-width="0.8"/>
<line x1="146" y1="297.51" x2="148.2" y2="297.51" stroke="#222" stroke-width="0.8"/>
<line x1="146" y1="306.43" x2="148.2" y2="306.43" stroke="#222" stroke-width="0.8"/>
<line x1="146" y1="315.34" x2="148.2" y2="315.34" stroke="#222" stroke-width="0.8"/>
<line x1="146" y1="324.26" x2="148.2" y2="324.26" stroke="#222" stroke-width="0.8"/>
<line x1="146" y1="333.18" x2="148.2" y2="333.18" stroke="#222" stroke-width="0.8"/>
<line x1="146" y1="342.09" x2="148.2" y2="342.09" stroke="#222" stroke-width="0.8"/>
<line x1="146" y1="351.01" x2="148.2" y2="351.01" stroke="#222" stroke-width="0.8"/>
<line x1="146" y1="359.92" x2="148.2" y2="359.92" stroke="#222" stroke-width="0.8"/>
<line x1="146" y1="368.84" x2="148.2" y2="368.84" stroke="#222" stroke-width="0.8"/>
<line x1="146" y1="377.76" x2="148.2" y2="377.76" stroke="#222" stroke-width="0.8"/>
<line x1="146" y1="386.67" x2="148.2" y2="386.67" stroke="#222" stroke-width="0.8"/>
<line x1="146" y1="395.59" x2="148.2" y2="395.59" stroke="#222" stroke-width="0.8"/>
<line x1="146" y1="404.5" x2="148.2" y2="404.5" stroke="#222" stroke-width="0.8"/>
<line x1="146" y1="413.42" x2="148.2" y2="413.42" stroke="#222" stroke-width="0.8"/>
<line x1="146" y1="422.34" x2="148.2" y2="422.34" stroke="#222" stroke-width="0.8"/>
<line x1="146" y1="431.25" x2="148.2" y2="431.25" stroke="#222" stroke-width="0.8"/>
<line x1="146" y1="440.17" x2="148.2" y2="440.17" stroke="#222" stroke-width="0.8"/>
<line x1="146" y1="449.08" x2="148.2" y2="449.08" stroke="#222" stroke-width="0.8"/>
<line x1="146" y1="458" x2="148.2" y2="458" stroke="#222" stroke-width="0.8"/>
<line x1="146" y1="466.92" x2="148.2" y2="466.92" stroke="#222" stroke-width="0.8"/>
<line x1="146" y1="475.83" x2="148.2" y2="475.83" stroke="#222" stroke-width="0.8"/>
<line x1="146" y1="484.75" x2="148.2" y2="484.75" stroke="#222" stroke-width="0.8"/>
<line x1="146" y1="493.66" x2="148.2" y2="493.66" stroke="#222" stroke-width="0.8"/>
<line x1="146" y1="502.58" x2="148.2" y2="502.58" stroke="#222" stroke-width="0.8"/>
<line x1="146" y1="511.5" x2="148.2" y2="511.5" stroke="#222" stroke-width="0.8"/>
<line x1="146" y1="520.41" x2="148.2" y2="520.41" stroke="#222" stroke-width="0.8"/>
<line x1="146" y1="529.33" x2="148.2" y2="529.33" stroke="#222" stroke-width="0.8"/>
<line x1="146" y1="538.24" x2="148.2" y2="538.24" stroke="#222" stroke-width="0.8"/>
<line x1="146" y1="547.16" x2="148.2" y2="547.16" stroke="#222" stroke-width="0.8"/>
<line x1="146" y1="556.08" x2="148.2" y2="556.08" stroke="#222" stroke-width="0.8"/>
<line x1="146" y1="564.99" x2="148.2" y2="564.99" stroke="#222" stroke-width="0.8"/>
<line x1="146" y1="573.91" x2="148.2" y2="573.91" stroke="#222" stroke-width="0.8"/>
<line x1="146" y1="582.82" x2="148.2" y2="582.82" stroke="#222" stroke-width="0.8"/>
<line x1="146" y1="591.74" x2="148.2" y2="591.74" stroke="#222" stroke-width="0.8"/>
<line x1="146" y1="600.66" x2="148.2" y2="600.66" stroke="#222" stroke-width="0.8"/>
<line x1="146" y1="609.57" x2="148.2" y2="609.57" stroke="#222" stroke-width="0.8"/>
<line x1="146" y1="618.49" x2="148.2" y2="618.49" stroke="#222" stroke-width="0.8"/>
<line x1="146" y1="627.4" x2="148.2" y2="627.4" stroke="#222" stroke-width="0.8"/>
<line x1="146" y1="636.32" x2="148.2" y2="636.32" stroke="#222" stroke-width="0.8"/>
<line x1="146" y1="645.24" x2="148.2" y2="645.24" stroke="#222" stroke-width="0.8"/>
<line x1="146" y1="654.15" x2="148.2" y2="654.15" stroke="#222" stroke-width="0.8"/>
<line x1="146" y1="663.07" x2="148.2" y2="663.07" stroke="#222" stroke-width="0.8"/>
<line x1="146" y1="671.98" x2="148.2" y2="671.98" stroke="#222" stroke-width="0.8"/>
<line x1="146" y1="680.9" x2="148.2" y2="680.9" stroke="#222" stroke-width="0.8"/>
<line x1="146" y1="689.82" x2="148.2" y2="689.82" stroke="#222" stroke-width="0.8"/>
<line x1="146" y1="698.73" x2="148.2" y2="698.73" stroke="#222" stroke-width="0.8"/>
<line x1="146" y1="707.65" x2="148.2" y2="707.65" stroke="#222" stroke-width="0.8"/>
<line x1="146" y1="716.56" x2="148.2" y2="716.56" stroke="#222" stroke-width="0.8"/>
<line x1="146" y1="725.48" x2="148.2" y2="725.48" stroke="#222" stroke-width="0.8"/>
<line x1="146" y1="734.4" x2="148.2" y2="734.4" stroke="#222" stroke-width="0.8"/>
<line x1="146" y1="743.31" x2="148.2" y2="743.31" stroke="#222" stroke-width="0.8"/>
<line x1="146" y1="752.23" x2="148.2" y2="752.23" stroke="#222" stroke-width="0.8"/>
<line x1="146" y1="761.14" x2="148.2" y2="761.14" stroke="#222" stroke-width="0.8"/>
<line x1="146" y1="770.06" x2="148.2" y2="770.06" stroke="#222" stroke-width="0.8"/>
<line x1="146" y1="778.98" x2="148.2" y2="778.98" stroke="#222" stroke-width="0.8"/>
<line x1="146" y1="787.89" x2="148.2" y2="787.89" stroke="#222" stroke-width="0.8"/>
<line x1="146" y1="796.81" x2="148.2" y2="796.81" stroke="#222" stroke-width="0.8"/>
<line x1="146" y1="805.72" x2="148.2" y2="805.72" stroke="#222" stroke-width="0.8"/>
<line x1="146" y1="814.64" x2="148.2" y2="814.64" stroke="#222" stroke-width="0.8"/>
<line x1="146" y1="823.56" x2="148.2" y2="823.56" stroke="#222" stroke-width="0.8"/>
<line x1="146" y1="832.47" x2="148.2" y2="832.47" stroke="#222" stroke-width="0.8"/>
<line x1="146" y1="841.39" x2="148.2" y2="841.39" stroke="#222" stroke-width="0.8"/>
<line x1="146" y1="850.3" x2="148.2" y2="850.3" stroke="#222" stroke-width="0.8"/>
<line x1="146" y1="859.22" x2="148.2" y2="859.22" stroke="#222" stroke-width="0.8"/>
<circle cx="171.2" cy="235.1" r="5.4" fill="#ff7652" stroke="#1c1410" stroke-width="0.6"/>
<circle cx="165.2" cy="244.02" r="4.4" fill="#ff7551" stroke="#1c1410" stroke-width="0.6"/>
<circle cx="171.1" cy="252.93" r="3.8" fill="#ff7551" stroke="#1c1410" stroke-width="0.6"/>
<circle cx="210.5" cy="261.85" r="6.3" fill="#ff7450" stroke="#1c1410" stroke-width="0.6"/>
<circle cx="170.9" cy="270.76" r="4" fill="#ff7450" stroke="#1c1410" stroke-width="0.6"/>
<circle cx="272" cy="279.68" r="6.4" fill="#ff734f" stroke="#1c1410" stroke-width="0.6"/>
<circle cx="229.5" cy="288.6" r="5.2" fill="#ff734f" stroke="#1c1410" stroke-width="0.6"/>
<circle cx="193.3" cy="297.51" r="4.4" fill="#ff724e" stroke="#1c1410" stroke-width="0.6"/>
<circle cx="196.3" cy="306.43" r="4.7" fill="#ff714d" stroke="#1c1410" stroke-width="0.6"/>
<circle cx="162.1" cy="315.34" r="2.9" fill="#ff714d" stroke="#1c1410" stroke-width="0.6"/>
<circle cx="175" cy="324.26" r="3.4" fill="#ff704c" stroke="#1c1410" stroke-width="0.6"/>
<circle cx="174.7" cy="333.18" r="3.3" fill="#ff704c" stroke="#1c1410" stroke-width="0.6"/>
<circle cx="158.3" cy="342.09" r="2.8" fill="#ff6f4b" stroke="#1c1410" stroke-width="0.6"/>
<circle cx="176.5" cy="351.01" r="3.5" fill="#ff6f4b" stroke="#1c1410" stroke-width="0.6"/>
<circle cx="175" cy="359.92" r="3" fill="#ff6e4a" stroke="#1c1410" stroke-width="0.6"/>
<circle cx="199" cy="368.84" r="4.7" fill="#ff6d49" stroke="#1c1410" stroke-width="0.6"/>
<circle cx="188.5" cy="377.76" r="3.5" fill="#ff6c48" stroke="#1c1410" stroke-width="0.6"/>
<circle cx="272.3" cy="386.67" r="5.2" fill="#ff6c48" stroke="#1c1410" stroke-width="0.6"/>
<circle cx="191.8" cy="395.59" r="2.9" fill="#ff6b47" stroke="#1c1410" stroke-width="0.6"/>
<circle cx="178.9" cy="404.5" r="3.1" fill="#ff6a46" stroke="#1c1410" stroke-width="0.6"/>
<circle cx="187.6" cy="413.42" r="3.7" fill="#ff6945" stroke="#1c1410" stroke-width="0.6"/>
<circle cx="202" cy="422.34" r="3.9" fill="#ff6844" stroke="#1c1410" stroke-width="0.6"/>
<circle cx="220.6" cy="431.25" r="3.8" fill="#ff6844" stroke="#1c1410" stroke-width="0.6"/>
<circle cx="180.4" cy="440.17" r="2.2" fill="#ff6743" stroke="#1c1410" stroke-width="0.6"/>
<circle cx="216" cy="449.08" r="4.9" fill="#ff6642" stroke="#1c1410" stroke-width="0.6"/>
<circle cx="210.3" cy="458" r="4.9" fill="#ff6541" stroke="#1c1410" stroke-width="0.6"/>
<circle cx="239.7" cy="466.92" r="3.8" fill="#ff6440" stroke="#1c1410" stroke-width="0.6"/>
<circle cx="208.2" cy="475.83" r="3.8" fill="#ff623f" stroke="#1c1410" stroke-width="0.6"/>
<circle cx="229.2" cy="484.75" r="3.2" fill="#ff613e" stroke="#1c1410" stroke-width="0.6"/>
<circle cx="199.6" cy="493.66" r="2.6" fill="#ff603d" stroke="#1c1410" stroke-width="0.6"/>
<circle cx="327" cy="511.5" r="5.8" fill="#ff5e3b" stroke="#1c1410" stroke-width="0.6"/>
<circle cx="327.6" cy="502.58" r="6.4" fill="#ff5f3c" stroke="#1c1410" stroke-width="0.6"/>
<circle cx="251.3" cy="520.41" r="3.8" fill="#ff5c3a" stroke="#1c1410" stroke-width="0.6"/>
<circle cx="241.5" cy="529.33" r="4.2" fill="#ff5b39" stroke="#1c1410" stroke-width="0.6"/>
<circle cx="216.6" cy="538.24" r="3.1" fill="#ff5a38" stroke="#1c1410" stroke-width="0.6"/>
<circle cx="300.7" cy="547.16" r="5.5" fill="#ff5937" stroke="#1c1410" stroke-width="0.6"/>
<circle cx="218.4" cy="556.08" r="2.8" fill="#ff5736" stroke="#1c1410" stroke-width="0.6"/>
<circle cx="213" cy="564.99" r="3.7" fill="#ff5635" stroke="#1c1410" stroke-width="0.6"/>
<circle cx="235.8" cy="573.91" r="2.5" fill="#ff5534" stroke="#1c1410" stroke-width="0.6"/>
<circle cx="221.1" cy="582.82" r="3.7" fill="#ff5433" stroke="#1c1410" stroke-width="0.6"/>
<circle cx="227.7" cy="591.74" r="3.1" fill="#ff5231" stroke="#1c1410" stroke-width="0.6"/>
<circle cx="267.8" cy="600.66" r="4" fill="#ff5130" stroke="#1c1410" stroke-width="0.6"/>
<circle cx="301" cy="609.57" r="5.2" fill="#ff502f" stroke="#1c1410" stroke-width="0.6"/>
<circle cx="301.9" cy="618.49" r="5.2" fill="#ff4f2e" stroke="#1c1410" stroke-width="0.6"/>
<circle cx="327" cy="627.4" r="2.5" fill="#ff4d2d" stroke="#1c1410" stroke-width="0.6"/>
<circle cx="264.2" cy="636.32" r="2.2" fill="#ff4c2c" stroke="#1c1410" stroke-width="0.6"/>
<circle cx="327.4" cy="743.31" r="4.1" fill="#ff2810" stroke="#1c1410" stroke-width="0.6"/>
<circle cx="327.4" cy="734.4" r="5.3" fill="#ff2a12" stroke="#1c1410" stroke-width="0.6"/>
<circle cx="327.4" cy="725.48" r="4.1" fill="#ff2d14" stroke="#1c1410" stroke-width="0.6"/>
<circle cx="327.4" cy="716.56" r="2.2" fill="#ff2f15" stroke="#1c1410" stroke-width="0.6"/>
<circle cx="327.4" cy="707.65" r="2.6" fill="#ff3217" stroke="#1c1410" stroke-width="0.6"/>
<circle cx="327.4" cy="698.73" r="5.1" fill="#ff3419" stroke="#1c1410" stroke-width="0.6"/>
<circle cx="327.4" cy="689.82" r="5.6" fill="#ff381c" stroke="#1c1410" stroke-width="0.6"/>
<circle cx="327.4" cy="680.9" r="5.3" fill="#ff3c1f" stroke="#1c1410" stroke-width="0.6"/>
<circle cx="327.4" cy="671.98" r="5.6" fill="#ff4022" stroke="#1c1410" stroke-width="0.6"/>
<circle cx="327.4" cy="663.07" r="2.2" fill="#ff4324" stroke="#1c1410" stroke-width="0.6"/>
<circle cx="327.4" cy="654.15" r="5.85" fill="#ff4627" stroke="#1c1410" stroke-width="0.6"/>
<circle cx="327.4" cy="645.24" r="3.4" fill="#ff492a" stroke="#1c1410" stroke-width="0.6"/>
<circle cx="327.4" cy="752.23" r="4.8" fill="#ff0000" stroke="#1c1410" stroke-width="0.6"/>
<circle cx="158" cy="761.14" r="4.1" fill="#8a62ff" stroke="#1c1410" stroke-width="0.6"/>
<circle cx="162.6" cy="770.06" r="3" fill="#855dff" stroke="#1c1410" stroke-width="0.6"/>
<circle cx="156.8" cy="778.98" r="3.15" fill="#8058ff" stroke="#1c1410" stroke-width="0.6"/>
<circle cx="173.5" cy="787.89" r="2.4" fill="#7e56ff" stroke="#1c1410" stroke-width="0.6"/>
<circle cx="175.2" cy="796.81" r="2.6" fill="#7d54ff" stroke="#1c1410" stroke-width="0.6"/>
<circle cx="168.4" cy="805.72" r="2.75" fill="#7c52ff" stroke="#1c1410" stroke-width="0.6"/>
<circle cx="177.6" cy="814.64" r="2.9" fill="#7a50ff" stroke="#1c1410" stroke-width="0.6"/>
<circle cx="204.9" cy="823.56" r="3.9" fill="#784eff" stroke="#1c1410" stroke-width="0.6"/>
<circle cx="195.3" cy="832.47" r="2.4" fill="#764bff" stroke="#1c1410" stroke-width="0.6"/>
<circle cx="203.2" cy="841.39" r="4.2" fill="#7449ff" stroke="#1c1410" stroke-width="0.6"/>
<circle cx="226.9" cy="850.3" r="2.75" fill="#7246ff" stroke="#1c1410" stroke-width="0.6"/>
<circle cx="218.8" cy="859.22" r="2.9" fill="#7044ff" stroke="#1c1410" stroke-width="0.6"/>
<line x1="148.2" y1="230" x2="148.2" y2="865" stroke="#222" stroke-width="1.3"/>
<line x1="147.6" y1="864.4" x2="336" y2="864.4" stroke="#222" stroke-width="1.3"/>
<line x1="175.9" y1="864.4" x2="175.9" y2="866.6" stroke="#222" stroke-width="1"/>
<text x="176.4" y="876.5" font-size="11.2" text-anchor="middle" fill="#4a4a4a">1.5</text>
<line x1="226.5" y1="864.4" x2="226.5" y2="866.6" stroke="#222" stroke-width="1"/>
<text x="227" y="876.5" font-size="11.2" text-anchor="middle" fill="#4a4a4a">2.0</text>
<line x1="277.1" y1="864.4" x2="277.1" y2="866.6" stroke="#222" stroke-width="1"/>
<text x="277.6" y="876.5" font-size="11.2" text-anchor="middle" fill="#4a4a4a">2.5</text>
<line x1="327.7" y1="864.4" x2="327.7" y2="866.6" stroke="#222" stroke-width="1"/>
<text x="328.2" y="876.5" font-size="11.2" text-anchor="middle" fill="#4a4a4a">3.0</text>
<text transform="translate(245 886) scale(0.885 1)" font-size="12.8" text-anchor="middle" fill="#000">−Log<tspan font-size="8.7" dy="3.07">10</tspan><tspan dy="-3.07" font-size="10.24"> </tspan><tspan font-style="italic">P</tspan></text>
<text transform="translate(0.2 227.4) scale(0.7 1)" font-size="14.3" fill="#000">E</text>
<text x="308.6" y="238.8" font-size="9" text-anchor="start" fill="#000">NES</text>
<defs><linearGradient id="gE" x1="0" y1="0" x2="0" y2="1"><stop offset="0" stop-color="#ff2a1a"/><stop offset="0.3" stop-color="#ff9a85"/><stop offset="0.6" stop-color="#ffffff"/><stop offset="0.8" stop-color="#b7a0ff"/><stop offset="1" stop-color="#6a4cff"/></linearGradient></defs>
<rect x="308.1" y="242.1" width="12.1" height="57.2" fill="url(#gE)"/>
<line x1="308.1" y1="245.7" x2="310.5" y2="245.7" stroke="#fff" stroke-width="0.6"/>
<line x1="317.8" y1="245.7" x2="320.2" y2="245.7" stroke="#fff" stroke-width="0.6"/>
<text x="324.6" y="248.9" font-size="9" text-anchor="start" fill="#000">2</text>
<line x1="308.1" y1="261" x2="310.5" y2="261" stroke="#fff" stroke-width="0.6"/>
<line x1="317.8" y1="261" x2="320.2" y2="261" stroke="#fff" stroke-width="0.6"/>
<text x="324.6" y="264.2" font-size="9" text-anchor="start" fill="#000">1</text>
<line x1="308.1" y1="276.3" x2="310.5" y2="276.3" stroke="#fff" stroke-width="0.6"/>
<line x1="317.8" y1="276.3" x2="320.2" y2="276.3" stroke="#fff" stroke-width="0.6"/>
<text x="324.6" y="279.5" font-size="9" text-anchor="start" fill="#000">0</text>
<line x1="308.1" y1="291.5" x2="310.5" y2="291.5" stroke="#fff" stroke-width="0.6"/>
<line x1="317.8" y1="291.5" x2="320.2" y2="291.5" stroke="#fff" stroke-width="0.6"/>
<text x="324.6" y="294.7" font-size="9" text-anchor="start" fill="#000">−1</text>
<text x="308.6" y="313.5" font-size="9" text-anchor="start" fill="#000">SIZE</text>
<circle cx="316.6" cy="323" r="4.3" fill="#fff" stroke="#222" stroke-width="0.6"/>
<text x="327.9" y="324.4" font-size="9" text-anchor="start" fill="#000">30</text>
<circle cx="316.6" cy="334.7" r="5.4" fill="#fff" stroke="#222" stroke-width="0.6"/>
<text x="327.9" y="335.8" font-size="9" text-anchor="start" fill="#000">60</text>
<circle cx="316.6" cy="348.2" r="6.1" fill="#fff" stroke="#222" stroke-width="0.6"/>
<text x="327.9" y="349.6" font-size="9" text-anchor="start" fill="#000">90</text>
<circle cx="316.6" cy="363.5" r="6.8" fill="#fff" stroke="#222" stroke-width="0.6"/>
<text x="327.9" y="364.9" font-size="9" text-anchor="start" fill="#000">120</text>
<text x="478.6" y="236.92" font-size="7.4" text-anchor="end" fill="#505050">Protein Localization To Extracellular</text>
<text x="478.6" y="242.22" font-size="7.4" text-anchor="end" fill="#505050">Region</text>
<text x="478.6" y="249.72" font-size="7.4" text-anchor="end" fill="#383838" font-weight="bold">Protein Containing Complex</text>
<text x="478.6" y="255.42" font-size="7.4" text-anchor="end" fill="#383838" font-weight="bold">Organization</text>
<text x="478.6" y="262.52" font-size="7.4" text-anchor="end" fill="#383838" font-weight="bold">Small Molecule Metabolic</text>
<text x="477.85" y="267.72" font-size="7.4" text-anchor="end" fill="#383838" font-weight="bold">Process</text>
<text x="478.6" y="275.02" font-size="7.4" text-anchor="end" fill="#383838" font-weight="bold">Lipid Localization</text>
<text x="478.6" y="285.62" font-size="7.4" text-anchor="end" fill="#383838" font-weight="bold">Regulation Of Transport</text>
<text x="479.2" y="294.12" font-size="7.4" text-anchor="end" fill="#505050">Negative Regulation Of Cellular</text>
<text x="479.2" y="299.62" font-size="7.4" text-anchor="end" fill="#505050">Component Organization</text>
<text x="478.6" y="308.72" font-size="7.4" text-anchor="end" fill="#505050">Actin Filament Organization</text>
<text x="476.85" y="317.92" font-size="7.4" text-anchor="end" fill="#505050">Regulation Of Supramolecular</text>
<text x="477.85" y="324.22" font-size="7.4" text-anchor="end" fill="#505050">Fiber Organization</text>
<text x="477" y="332.92" font-size="7.4" text-anchor="end" fill="#505050">Cell Morphogenesis</text>
<text x="477.6" y="343.42" font-size="7.4" text-anchor="end" fill="#505050">Embryo Development</text>
<text x="477.6" y="352.22" font-size="7.4" text-anchor="end" fill="#505050">Positive Regulation Of</text>
<text x="476.85" y="357.72" font-size="7.4" text-anchor="end" fill="#505050">Endocytosis</text>
<text x="478.6" y="364.02" font-size="7.4" text-anchor="end" fill="#505050">Organophosphate Metabolic</text>
<text x="478.6" y="369.22" font-size="7.4" text-anchor="end" fill="#505050">Process</text>
<text x="478.6" y="375.82" font-size="7.4" text-anchor="end" fill="#505050">Negative Regulation Of Immune</text>
<text x="478.6" y="381.02" font-size="7.4" text-anchor="end" fill="#505050">System Process</text>
<text x="478.6" y="387.12" font-size="7.4" text-anchor="end" fill="#505050">Regulation Of Cytoskeleton</text>
<text x="478.6" y="392.82" font-size="7.4" text-anchor="end" fill="#505050">Organization</text>
<text x="476.85" y="400.42" font-size="7.4" text-anchor="end" fill="#505050">Phagocytosis</text>
<text x="478.6" y="412.22" font-size="7.4" text-anchor="end" fill="#505050">Regulation Of Lipid Localization</text>
<text x="478.6" y="423.02" font-size="7.4" text-anchor="end" fill="#505050">Macromolecule Catabolic Process</text>
<text x="477.6" y="434.22" font-size="7.4" text-anchor="end" fill="#505050">Apoptotic Cell Clearance</text>
<text x="478.6" y="445.12" font-size="7.4" text-anchor="end" fill="#505050">Regulation Of Actin Filament</text>
<text x="478.6" y="450.42" font-size="7.4" text-anchor="end" fill="#505050">Based Process</text>
<text x="478.6" y="458.72" font-size="7.4" text-anchor="end" fill="#505050">Protein Catabolic Process</text>
<text x="478.6" y="470.52" font-size="7.4" text-anchor="end" fill="#505050">Actin Filament Based Process</text>
<text x="478.6" y="482.02" font-size="7.4" text-anchor="end" fill="#505050">Regulation Of Phagocytosis</text>
<text x="478.6" y="491.32" font-size="7.4" text-anchor="end" fill="#505050">Negative Regulation Of Defense</text>
<text x="478.6" y="496.62" font-size="7.4" text-anchor="end" fill="#505050">Response</text>
<text x="478.6" y="504.62" font-size="7.4" text-anchor="end" fill="#505050">Cytoskeleton Organization</text>
<text x="477.85" y="513.92" font-size="7.4" text-anchor="end" fill="#505050">Central Nervous System</text>
<text x="477.35" y="519.72" font-size="7.4" text-anchor="end" fill="#505050">Development</text>
<text x="478.6" y="528.12" font-size="7.4" text-anchor="end" fill="#505050">Glial Cell Differentiation</text>
<text x="478.6" y="539.62" font-size="7.4" text-anchor="end" fill="#505050">Heterotypic Cell Cell Adhesion</text>
<text x="478.6" y="550.92" font-size="7.4" text-anchor="end" fill="#505050">Gliogenesis</text>
<text x="478.6" y="560.22" font-size="7.4" text-anchor="end" fill="#505050">Positive Regulation Of</text>
<text x="478.6" y="565.22" font-size="7.4" text-anchor="end" fill="#505050">Phagocytosis</text>
<text x="478.6" y="573.32" font-size="7.4" text-anchor="end" fill="#505050">Microtubule Based Process</text>
<text x="478.6" y="585.12" font-size="7.4" text-anchor="end" fill="#505050">Regulation Of Lipid Transport</text>
<text x="477.85" y="594.32" font-size="7.4" text-anchor="end" fill="#505050">Regulation Of Trans Synaptic</text>
<text x="477.35" y="599.62" font-size="7.4" text-anchor="end" fill="#505050">Signaling</text>
<text x="478.6" y="608.22" font-size="7.4" text-anchor="end" fill="#505050">Intracellular Protein Transport</text>
<text x="476.85" y="619.72" font-size="7.4" text-anchor="end" fill="#505050">Maintenance Of Location</text>
<text x="476.85" y="630.62" font-size="7.4" text-anchor="end" fill="#505050">Head Development</text>
<text x="477.6" y="642.42" font-size="7.4" text-anchor="end" fill="#505050">Synaptic Signaling</text>
<text x="477.35" y="651.22" font-size="7.4" text-anchor="end" fill="#505050">G Protein Coupled Receptor</text>
<text x="477.35" y="657.22" font-size="7.4" text-anchor="end" fill="#505050">Signaling Pathway</text>
<text x="477.35" y="665.22" font-size="7.4" text-anchor="end" fill="#505050">Lipoprotein Metabolic Process</text>
<text x="476.35" y="672.02" font-size="7.4" text-anchor="end" fill="#505050">Establishment Of Protein</text>
<text x="478.6" y="678.32" font-size="7.4" text-anchor="end" fill="#505050">Localization To Organelle</text>
<text x="477.85" y="685.62" font-size="7.4" text-anchor="end" fill="#505050">Regulation Of Protein Localization</text>
<text x="476.6" y="691.32" font-size="7.4" text-anchor="end" fill="#505050">To Nucleus</text>
<text x="478.6" y="697.62" font-size="7.4" text-anchor="end" fill="#505050">High Density Lipoprotein Particle</text>
<text x="477.85" y="703.62" font-size="7.4" text-anchor="end" fill="#505050">Remodeling</text>
<text x="477.1" y="712.42" font-size="7.4" text-anchor="end" fill="#505050">Cholesterol Efflux</text>
<text x="477.35" y="722.22" font-size="7.4" text-anchor="end" fill="#505050">Intracellular Transport</text>
<text x="478.6" y="734.72" font-size="7.4" text-anchor="end" fill="#505050">Positive Regulation Of Transport</text>
<text x="478.6" y="744.42" font-size="7.4" text-anchor="end" fill="#505050">Plasma Lipoprotein Particle</text>
<text x="477.35" y="750.22" font-size="7.4" text-anchor="end" fill="#505050">Clearance</text>
<text x="478.6" y="757.72" font-size="7.4" text-anchor="end" fill="#505050">Protein Localization To Nucleus</text>
<text x="478.6" y="765.02" font-size="7.4" text-anchor="end" fill="#505050">Negative Regulation Of Intracellular</text>
<text x="478.6" y="771.02" font-size="7.4" text-anchor="end" fill="#505050">Signal Transduction</text>
<text x="477.85" y="777.52" font-size="7.4" text-anchor="end" fill="#505050">Positive Regulation Of Lipid</text>
<text x="476.35" y="783.32" font-size="7.4" text-anchor="end" fill="#505050">Localization</text>
<text x="478.6" y="789.12" font-size="7.4" text-anchor="end" fill="#505050">Regulation Of Plasma Lipoprotein</text>
<text x="476.85" y="794.12" font-size="7.4" text-anchor="end" fill="#505050">Particle Levels</text>
<text x="478.6" y="800.32" font-size="7.4" text-anchor="end" fill="#505050">Regulation Of Substrate Adhesion</text>
<text x="478.6" y="806.72" font-size="7.4" text-anchor="end" fill="#505050">Dependent Cell Spreading</text>
<text x="477.35" y="813.72" font-size="7.4" text-anchor="end" fill="#505050">Organic Hydroxy Compound</text>
<text x="478.6" y="819.32" font-size="7.4" text-anchor="end" fill="#505050">Transport</text>
<text x="478.6" y="826.82" font-size="7.4" text-anchor="end" fill="#505050">Tissue Morphogenesis</text>
<text x="478.6" y="838.02" font-size="7.4" text-anchor="end" fill="#505050">Sterol Transport</text>
<text x="479.2" y="849.32" font-size="7.4" text-anchor="end" fill="#505050">Morphogenesis Of An Epithelium</text>
<text x="478.6" y="861.42" font-size="7.4" text-anchor="end" fill="#505050">Amide Metabolic Process</text>
<line x1="480.1" y1="237.5" x2="482.3" y2="237.5" stroke="#222" stroke-width="0.8"/>
<line x1="480.1" y1="249" x2="482.3" y2="249" stroke="#222" stroke-width="0.8"/>
<line x1="480.1" y1="260.5" x2="482.3" y2="260.5" stroke="#222" stroke-width="0.8"/>
<line x1="480.1" y1="272" x2="482.3" y2="272" stroke="#222" stroke-width="0.8"/>
<line x1="480.1" y1="283.5" x2="482.3" y2="283.5" stroke="#222" stroke-width="0.8"/>
<line x1="480.1" y1="295" x2="482.3" y2="295" stroke="#222" stroke-width="0.8"/>
<line x1="480.1" y1="306.5" x2="482.3" y2="306.5" stroke="#222" stroke-width="0.8"/>
<line x1="480.1" y1="318" x2="482.3" y2="318" stroke="#222" stroke-width="0.8"/>
<line x1="480.1" y1="329.5" x2="482.3" y2="329.5" stroke="#222" stroke-width="0.8"/>
<line x1="480.1" y1="341" x2="482.3" y2="341" stroke="#222" stroke-width="0.8"/>
<line x1="480.1" y1="352.5" x2="482.3" y2="352.5" stroke="#222" stroke-width="0.8"/>
<line x1="480.1" y1="364" x2="482.3" y2="364" stroke="#222" stroke-width="0.8"/>
<line x1="480.1" y1="375.5" x2="482.3" y2="375.5" stroke="#222" stroke-width="0.8"/>
<line x1="480.1" y1="387" x2="482.3" y2="387" stroke="#222" stroke-width="0.8"/>
<line x1="480.1" y1="398.5" x2="482.3" y2="398.5" stroke="#222" stroke-width="0.8"/>
<line x1="480.1" y1="410" x2="482.3" y2="410" stroke="#222" stroke-width="0.8"/>
<line x1="480.1" y1="421.5" x2="482.3" y2="421.5" stroke="#222" stroke-width="0.8"/>
<line x1="480.1" y1="433" x2="482.3" y2="433" stroke="#222" stroke-width="0.8"/>
<line x1="480.1" y1="444.5" x2="482.3" y2="444.5" stroke="#222" stroke-width="0.8"/>
<line x1="480.1" y1="456" x2="482.3" y2="456" stroke="#222" stroke-width="0.8"/>
<line x1="480.1" y1="467.5" x2="482.3" y2="467.5" stroke="#222" stroke-width="0.8"/>
<line x1="480.1" y1="479" x2="482.3" y2="479" stroke="#222" stroke-width="0.8"/>
<line x1="480.1" y1="490.5" x2="482.3" y2="490.5" stroke="#222" stroke-width="0.8"/>
<line x1="480.1" y1="502" x2="482.3" y2="502" stroke="#222" stroke-width="0.8"/>
<line x1="480.1" y1="513.5" x2="482.3" y2="513.5" stroke="#222" stroke-width="0.8"/>
<line x1="480.1" y1="525" x2="482.3" y2="525" stroke="#222" stroke-width="0.8"/>
<line x1="480.1" y1="536.5" x2="482.3" y2="536.5" stroke="#222" stroke-width="0.8"/>
<line x1="480.1" y1="548" x2="482.3" y2="548" stroke="#222" stroke-width="0.8"/>
<line x1="480.1" y1="559.5" x2="482.3" y2="559.5" stroke="#222" stroke-width="0.8"/>
<line x1="480.1" y1="571" x2="482.3" y2="571" stroke="#222" stroke-width="0.8"/>
<line x1="480.1" y1="582.5" x2="482.3" y2="582.5" stroke="#222" stroke-width="0.8"/>
<line x1="480.1" y1="594" x2="482.3" y2="594" stroke="#222" stroke-width="0.8"/>
<line x1="480.1" y1="605.5" x2="482.3" y2="605.5" stroke="#222" stroke-width="0.8"/>
<line x1="480.1" y1="617" x2="482.3" y2="617" stroke="#222" stroke-width="0.8"/>
<line x1="480.1" y1="628.5" x2="482.3" y2="628.5" stroke="#222" stroke-width="0.8"/>
<line x1="480.1" y1="640" x2="482.3" y2="640" stroke="#222" stroke-width="0.8"/>
<line x1="480.1" y1="651.5" x2="482.3" y2="651.5" stroke="#222" stroke-width="0.8"/>
<line x1="480.1" y1="663" x2="482.3" y2="663" stroke="#222" stroke-width="0.8"/>
<line x1="480.1" y1="674.5" x2="482.3" y2="674.5" stroke="#222" stroke-width="0.8"/>
<line x1="480.1" y1="686" x2="482.3" y2="686" stroke="#222" stroke-width="0.8"/>
<line x1="480.1" y1="697.5" x2="482.3" y2="697.5" stroke="#222" stroke-width="0.8"/>
<line x1="480.1" y1="709" x2="482.3" y2="709" stroke="#222" stroke-width="0.8"/>
<line x1="480.1" y1="720.5" x2="482.3" y2="720.5" stroke="#222" stroke-width="0.8"/>
<line x1="480.1" y1="732" x2="482.3" y2="732" stroke="#222" stroke-width="0.8"/>
<line x1="480.1" y1="743.5" x2="482.3" y2="743.5" stroke="#222" stroke-width="0.8"/>
<line x1="480.1" y1="755" x2="482.3" y2="755" stroke="#222" stroke-width="0.8"/>
<line x1="480.1" y1="766.5" x2="482.3" y2="766.5" stroke="#222" stroke-width="0.8"/>
<line x1="480.1" y1="778" x2="482.3" y2="778" stroke="#222" stroke-width="0.8"/>
<line x1="480.1" y1="789.5" x2="482.3" y2="789.5" stroke="#222" stroke-width="0.8"/>
<line x1="480.1" y1="801" x2="482.3" y2="801" stroke="#222" stroke-width="0.8"/>
<line x1="480.1" y1="812.5" x2="482.3" y2="812.5" stroke="#222" stroke-width="0.8"/>
<line x1="480.1" y1="824" x2="482.3" y2="824" stroke="#222" stroke-width="0.8"/>
<line x1="480.1" y1="835.5" x2="482.3" y2="835.5" stroke="#222" stroke-width="0.8"/>
<line x1="480.1" y1="847" x2="482.3" y2="847" stroke="#222" stroke-width="0.8"/>
<line x1="480.1" y1="858.5" x2="482.3" y2="858.5" stroke="#222" stroke-width="0.8"/>
<circle cx="527.1" cy="237.5" r="2.9" fill="#f5502f" stroke="#1c1410" stroke-width="0.6"/>
<circle cx="494.9" cy="249" r="5.9" fill="#8058ff" stroke="#1c1410" stroke-width="0.6"/>
<circle cx="512.4" cy="260.5" r="5.6" fill="#8058ff" stroke="#1c1410" stroke-width="0.6"/>
<circle cx="493.1" cy="272" r="4.7" fill="#8058ff" stroke="#1c1410" stroke-width="0.6"/>
<circle cx="530.2" cy="283.5" r="6.2" fill="#8058ff" stroke="#1c1410" stroke-width="0.6"/>
<circle cx="494.3" cy="295" r="4.4" fill="#8058ff" stroke="#1c1410" stroke-width="0.6"/>
<circle cx="502.6" cy="306.5" r="3.5" fill="#8058ff" stroke="#1c1410" stroke-width="0.6"/>
<circle cx="494.9" cy="318" r="3.5" fill="#8058ff" stroke="#1c1410" stroke-width="0.6"/>
<circle cx="493.1" cy="329.5" r="4.7" fill="#8058ff" stroke="#1c1410" stroke-width="0.6"/>
<circle cx="505.7" cy="341" r="4.1" fill="#8058ff" stroke="#1c1410" stroke-width="0.6"/>
<circle cx="507.8" cy="352.5" r="4.1" fill="#7850ff" stroke="#1c1410" stroke-width="0.6"/>
<circle cx="501.4" cy="364" r="4.4" fill="#7850ff" stroke="#1c1410" stroke-width="0.6"/>
<circle cx="500.4" cy="375.5" r="4.1" fill="#7850ff" stroke="#1c1410" stroke-width="0.6"/>
<circle cx="493.7" cy="387" r="3.2" fill="#7850ff" stroke="#1c1410" stroke-width="0.6"/>
<circle cx="502.3" cy="398.5" r="4.4" fill="#7850ff" stroke="#1c1410" stroke-width="0.6"/>
<circle cx="491.2" cy="410" r="3.8" fill="#7850ff" stroke="#1c1410" stroke-width="0.6"/>
<circle cx="526.5" cy="421.5" r="4.4" fill="#7850ff" stroke="#1c1410" stroke-width="0.6"/>
<circle cx="495.2" cy="433" r="2.6" fill="#7850ff" stroke="#1c1410" stroke-width="0.6"/>
<circle cx="508.1" cy="444.5" r="3.2" fill="#7850ff" stroke="#1c1410" stroke-width="0.6"/>
<circle cx="524" cy="456" r="4.4" fill="#7850ff" stroke="#1c1410" stroke-width="0.6"/>
<circle cx="513.6" cy="467.5" r="4.7" fill="#7850ff" stroke="#1c1410" stroke-width="0.6"/>
<circle cx="506" cy="479" r="3.8" fill="#7850ff" stroke="#1c1410" stroke-width="0.6"/>
<circle cx="498" cy="490.5" r="3.5" fill="#7850ff" stroke="#1c1410" stroke-width="0.6"/>
<circle cx="534.5" cy="502" r="5.6" fill="#7850ff" stroke="#1c1410" stroke-width="0.6"/>
<circle cx="519.5" cy="513.5" r="5" fill="#7850ff" stroke="#1c1410" stroke-width="0.6"/>
<circle cx="495.5" cy="525" r="3.5" fill="#6c44ff" stroke="#1c1410" stroke-width="0.6"/>
<circle cx="501.7" cy="536.5" r="2.6" fill="#6c44ff" stroke="#1c1410" stroke-width="0.6"/>
<circle cx="506" cy="548" r="3.5" fill="#6c44ff" stroke="#1c1410" stroke-width="0.6"/>
<circle cx="525.9" cy="559.5" r="3.5" fill="#6c44ff" stroke="#1c1410" stroke-width="0.6"/>
<circle cx="525.9" cy="571" r="3.9" fill="#6c44ff" stroke="#1c1410" stroke-width="0.6"/>
<circle cx="521.6" cy="582.5" r="3.6" fill="#6c44ff" stroke="#1c1410" stroke-width="0.6"/>
<circle cx="505" cy="594" r="3" fill="#6c44ff" stroke="#1c1410" stroke-width="0.6"/>
<circle cx="527.7" cy="605.5" r="3.8" fill="#6c44ff" stroke="#1c1410" stroke-width="0.6"/>
<circle cx="526.2" cy="617" r="3" fill="#6c44ff" stroke="#1c1410" stroke-width="0.6"/>
<circle cx="529" cy="628.5" r="3.8" fill="#6c44ff" stroke="#1c1410" stroke-width="0.6"/>
<circle cx="517.6" cy="640" r="3.3" fill="#6c44ff" stroke="#1c1410" stroke-width="0.6"/>
<circle cx="543.1" cy="651.5" r="3.5" fill="#6c44ff" stroke="#1c1410" stroke-width="0.6"/>
<circle cx="541.8" cy="663" r="3.8" fill="#6c44ff" stroke="#1c1410" stroke-width="0.6"/>
<circle cx="537.8" cy="674.5" r="2.7" fill="#6c44ff" stroke="#1c1410" stroke-width="0.6"/>
<circle cx="525.3" cy="686" r="2" fill="#6c44ff" stroke="#1c1410" stroke-width="0.6"/>
<circle cx="569.4" cy="697.5" r="2" fill="#6c44ff" stroke="#1c1410" stroke-width="0.6"/>
<circle cx="549.8" cy="709" r="3.6" fill="#6c44ff" stroke="#1c1410" stroke-width="0.6"/>
<circle cx="540.9" cy="720.5" r="4.8" fill="#6c44ff" stroke="#1c1410" stroke-width="0.6"/>
<circle cx="650" cy="732" r="5.5" fill="#5e3cff" stroke="#1c1410" stroke-width="0.6"/>
<circle cx="541.8" cy="743.5" r="3" fill="#5e3cff" stroke="#1c1410" stroke-width="0.6"/>
<circle cx="560.8" cy="755" r="3.3" fill="#5e3cff" stroke="#1c1410" stroke-width="0.6"/>
<circle cx="580.8" cy="766.5" r="3.9" fill="#5e3cff" stroke="#1c1410" stroke-width="0.6"/>
<circle cx="590.9" cy="778" r="2.7" fill="#5e3cff" stroke="#1c1410" stroke-width="0.6"/>
<circle cx="579.8" cy="789.5" r="3.9" fill="#5e3cff" stroke="#1c1410" stroke-width="0.6"/>
<circle cx="570.3" cy="801" r="2.1" fill="#5e3cff" stroke="#1c1410" stroke-width="0.6"/>
<circle cx="561.1" cy="812.5" r="4.1" fill="#5e3cff" stroke="#1c1410" stroke-width="0.6"/>
<circle cx="582.3" cy="824" r="3.7" fill="#5e3cff" stroke="#1c1410" stroke-width="0.6"/>
<circle cx="595.5" cy="835.5" r="4" fill="#5535ff" stroke="#1c1410" stroke-width="0.6"/>
<circle cx="613" cy="847" r="3.6" fill="#3f2aff" stroke="#1c1410" stroke-width="0.6"/>
<circle cx="675.2" cy="858.5" r="3.1" fill="#0c0cf0" stroke="#1c1410" stroke-width="0.6"/>
<line x1="482.3" y1="230" x2="482.3" y2="865.8" stroke="#222" stroke-width="1.3"/>
<line x1="481.7" y1="865.2" x2="685" y2="865.2" stroke="#222" stroke-width="1.3"/>
<line x1="512.7" y1="865.2" x2="512.7" y2="867.4" stroke="#222" stroke-width="1"/>
<text x="513.2" y="876.5" font-size="11.2" text-anchor="middle" fill="#4a4a4a">1.5</text>
<line x1="566.85" y1="865.2" x2="566.85" y2="867.4" stroke="#222" stroke-width="1"/>
<text x="567.35" y="876.5" font-size="11.2" text-anchor="middle" fill="#4a4a4a">2.0</text>
<line x1="621" y1="865.2" x2="621" y2="867.4" stroke="#222" stroke-width="1"/>
<text x="621.5" y="876.5" font-size="11.2" text-anchor="middle" fill="#4a4a4a">2.5</text>
<line x1="675.15" y1="865.2" x2="675.15" y2="867.4" stroke="#222" stroke-width="1"/>
<text x="675.65" y="876.5" font-size="11.2" text-anchor="middle" fill="#4a4a4a">3.0</text>
<text transform="translate(590 886) scale(0.885 1)" font-size="12.8" text-anchor="middle" fill="#000">−Log<tspan font-size="8.7" dy="3.07">10</tspan><tspan dy="-3.07" font-size="10.24"> </tspan><tspan font-style="italic">P</tspan></text>
<text transform="translate(352.5 227.2) scale(0.68 1)" font-size="14" fill="#000">F</text>
<text x="654.6" y="238" font-size="9" text-anchor="start" fill="#000">NES</text>
<defs><linearGradient id="gF" x1="0" y1="0" x2="0" y2="1"><stop offset="0" stop-color="#ff4a30"/><stop offset="0.21" stop-color="#ffa794"/><stop offset="0.42" stop-color="#ffffff"/><stop offset="0.71" stop-color="#9c86ff"/><stop offset="1" stop-color="#1a10ff"/></linearGradient></defs>
<rect x="654.3" y="241.1" width="11.8" height="57.1" fill="url(#gF)"/>
<line x1="654.3" y1="249" x2="656.7" y2="249" stroke="#fff" stroke-width="0.6"/>
<line x1="663.7" y1="249" x2="666.1" y2="249" stroke="#fff" stroke-width="0.6"/>
<text x="669.4" y="252.2" font-size="9" text-anchor="start" fill="#000">1</text>
<line x1="654.3" y1="264.8" x2="656.7" y2="264.8" stroke="#fff" stroke-width="0.6"/>
<line x1="663.7" y1="264.8" x2="666.1" y2="264.8" stroke="#fff" stroke-width="0.6"/>
<text x="669.4" y="268" font-size="9" text-anchor="start" fill="#000">0</text>
<line x1="654.3" y1="280.7" x2="656.7" y2="280.7" stroke="#fff" stroke-width="0.6"/>
<line x1="663.7" y1="280.7" x2="666.1" y2="280.7" stroke="#fff" stroke-width="0.6"/>
<text x="669.4" y="283.9" font-size="9" text-anchor="start" fill="#000">−1</text>
<text x="654.6" y="312.6" font-size="9" text-anchor="start" fill="#000">SIZE</text>
<circle cx="662.2" cy="321.5" r="2" fill="#fff" stroke="#222" stroke-width="0.6"/>
<text x="673.4" y="323.1" font-size="9" text-anchor="start" fill="#000">10</text>
<circle cx="662.2" cy="332.9" r="3.9" fill="#fff" stroke="#222" stroke-width="0.6"/>
<text x="673.4" y="334.5" font-size="9" text-anchor="start" fill="#000">20</text>
<circle cx="662.2" cy="344.7" r="4.9" fill="#fff" stroke="#222" stroke-width="0.6"/>
<text x="673.4" y="345.9" font-size="9" text-anchor="start" fill="#000">30</text>
<circle cx="662.2" cy="356.9" r="5.5" fill="#fff" stroke="#222" stroke-width="0.6"/>
<text x="673.4" y="358.1" font-size="9" text-anchor="start" fill="#000">40</text>
<circle cx="662.2" cy="371.1" r="6" fill="#fff" stroke="#222" stroke-width="0.6"/>
<text x="673.4" y="371.9" font-size="9" text-anchor="start" fill="#000">50</text>
<circle cx="662.2" cy="385.4" r="6.3" fill="#fff" stroke="#222" stroke-width="0.6"/>
<text x="673.4" y="386.7" font-size="9" text-anchor="start" fill="#000">60</text>
</svg>
</body></html>
